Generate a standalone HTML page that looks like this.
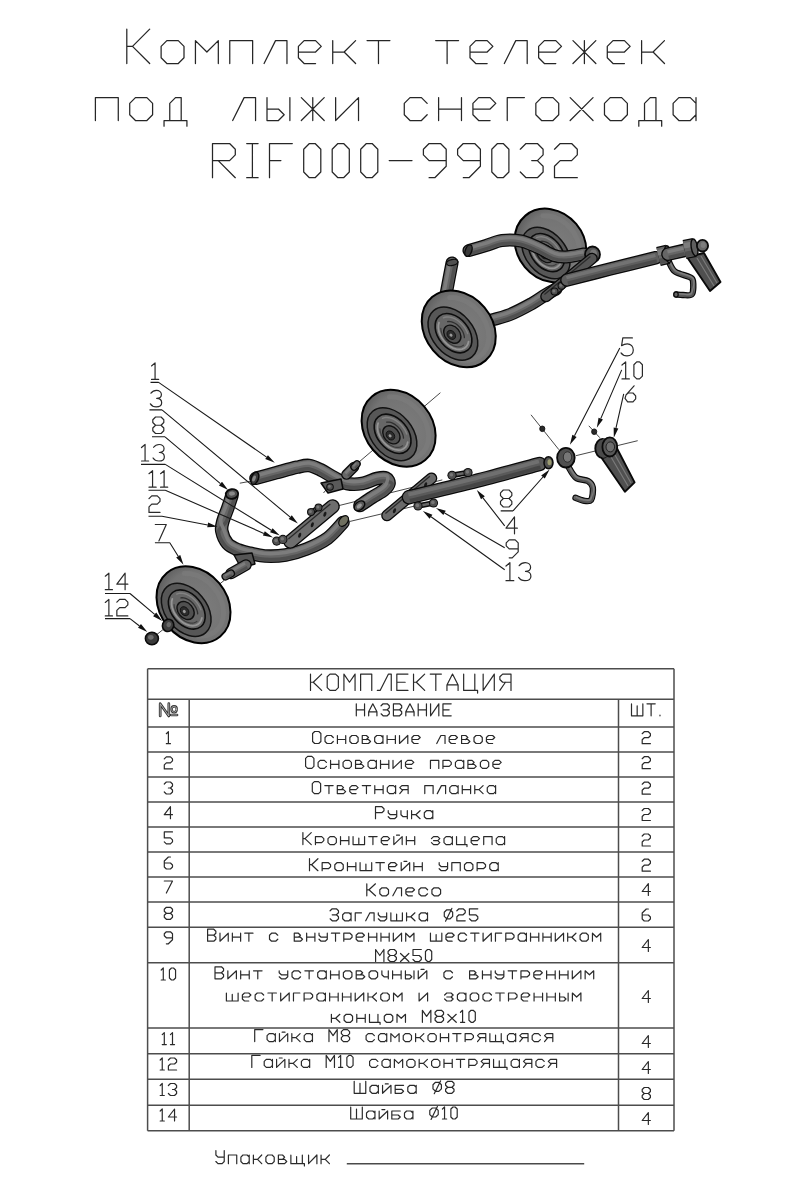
<!DOCTYPE html>
<html lang="ru"><head><meta charset="utf-8"><title>Комплект тележек под лыжи снегохода RIF000-99032</title><style>html,body{margin:0;padding:0;background:#fff;font-family:"Liberation Sans",sans-serif}svg{display:block}</style></head>
<body>
<svg width="802" height="1200" viewBox="0 0 802 1200">
<rect width="802" height="1200" fill="#fff"/>
<g aria-label="Комплект тележек под лыжи снегохода RIF000-99032" stroke="#262626" stroke-width="1.25" fill="none" stroke-linecap="round" stroke-linejoin="round"><path d="M 126.8,63.5 L 126.8,29.18 M 126.8,46.34 L 132.52,46.34 L 149.68,29.18 M 132.52,46.34 L 149.68,63.5 M 166.84,63.5 L 161.12,57.78 L 161.12,46.34 L 166.84,40.62 L 178.28,40.62 L 184,46.34 L 184,57.78 L 178.28,63.5 Z M 195.44,63.5 L 195.44,40.62 L 206.88,52.06 L 218.32,40.62 L 218.32,63.5 M 229.76,63.5 L 229.76,40.62 L 252.64,40.62 L 252.64,63.5 M 264.08,63.5 L 275.52,40.62 L 286.96,40.62 L 286.96,63.5 M 298.4,52.06 L 315.56,52.06 L 321.28,46.34 L 315.56,40.62 L 304.12,40.62 L 298.4,46.34 L 298.4,57.78 L 304.12,63.5 L 315.56,63.5 M 332.72,63.5 L 332.72,40.62 M 332.72,52.06 L 344.16,52.06 L 355.6,40.62 M 344.16,52.06 L 355.6,63.5 M 367.04,40.62 L 389.92,40.62 M 378.48,40.62 L 378.48,63.5 M 435.68,40.62 L 458.56,40.62 M 447.12,40.62 L 447.12,63.5 M 470,52.06 L 487.16,52.06 L 492.88,46.34 L 487.16,40.62 L 475.72,40.62 L 470,46.34 L 470,57.78 L 475.72,63.5 L 487.16,63.5 M 504.32,63.5 L 515.76,40.62 L 527.2,40.62 L 527.2,63.5 M 538.64,52.06 L 555.8,52.06 L 561.52,46.34 L 555.8,40.62 L 544.36,40.62 L 538.64,46.34 L 538.64,57.78 L 544.36,63.5 L 555.8,63.5 M 572.96,63.5 L 595.84,40.62 M 572.96,40.62 L 595.84,63.5 M 584.4,63.5 L 584.4,40.62 M 607.28,52.06 L 624.44,52.06 L 630.16,46.34 L 624.44,40.62 L 613,40.62 L 607.28,46.34 L 607.28,57.78 L 613,63.5 L 624.44,63.5 M 641.6,63.5 L 641.6,40.62 M 641.6,52.06 L 653.04,52.06 L 664.48,40.62 M 653.04,52.06 L 664.48,63.5 M 95.4,120.5 L 95.4,97.62 L 118.28,97.62 L 118.28,120.5 M 135.44,120.5 L 129.72,114.78 L 129.72,103.34 L 135.44,97.62 L 146.88,97.62 L 152.6,103.34 L 152.6,114.78 L 146.88,120.5 Z M 164.04,126.22 L 164.04,120.5 L 186.92,120.5 L 186.92,126.22 M 169.76,120.5 L 169.76,103.34 L 175.48,97.62 L 181.2,97.62 L 181.2,120.5 M 232.68,120.5 L 244.12,97.62 L 255.56,97.62 L 255.56,120.5 M 267,97.62 L 267,120.5 L 278.44,120.5 L 284.16,114.78 L 278.44,109.06 L 267,109.06 M 289.88,97.62 L 289.88,120.5 M 301.32,120.5 L 324.2,97.62 M 301.32,97.62 L 324.2,120.5 M 312.76,120.5 L 312.76,97.62 M 335.64,97.62 L 335.64,120.5 L 358.52,97.62 L 358.52,120.5 M 427.16,103.34 L 421.44,97.62 L 410,97.62 L 404.28,103.34 L 404.28,114.78 L 410,120.5 L 421.44,120.5 L 427.16,114.78 M 438.6,120.5 L 438.6,97.62 M 461.48,120.5 L 461.48,97.62 M 438.6,109.06 L 461.48,109.06 M 472.92,109.06 L 490.08,109.06 L 495.8,103.34 L 490.08,97.62 L 478.64,97.62 L 472.92,103.34 L 472.92,114.78 L 478.64,120.5 L 490.08,120.5 M 507.24,120.5 L 507.24,97.62 L 524.4,97.62 M 541.56,120.5 L 535.84,114.78 L 535.84,103.34 L 541.56,97.62 L 553,97.62 L 558.72,103.34 L 558.72,114.78 L 553,120.5 Z M 570.16,120.5 L 593.04,97.62 M 570.16,97.62 L 593.04,120.5 M 610.2,120.5 L 604.48,114.78 L 604.48,103.34 L 610.2,97.62 L 621.64,97.62 L 627.36,103.34 L 627.36,114.78 L 621.64,120.5 Z M 638.8,126.22 L 638.8,120.5 L 661.68,120.5 L 661.68,126.22 M 644.52,120.5 L 644.52,103.34 L 650.24,97.62 L 655.96,97.62 L 655.96,120.5 M 696,97.62 L 696,120.5 M 696,114.78 L 690.28,120.5 L 678.84,120.5 L 673.12,114.78 L 673.12,103.34 L 678.84,97.62 L 690.28,97.62 L 696,103.34 M 212.5,177.7 L 212.5,143.5 L 229.6,143.5 L 235.3,149.2 L 235.3,154.9 L 229.6,160.6 L 212.5,160.6 M 218.2,160.6 L 235.3,177.7 M 246.7,143.5 L 258.1,143.5 M 252.4,143.5 L 252.4,177.7 M 246.7,177.7 L 258.1,177.7 M 292.3,143.5 L 269.5,143.5 L 269.5,177.7 M 269.5,160.6 L 280.9,160.6 M 309.4,177.7 L 303.7,172 L 303.7,149.2 L 309.4,143.5 L 315.1,143.5 L 320.8,149.2 L 320.8,172 L 315.1,177.7 Z M 337.9,177.7 L 332.2,172 L 332.2,149.2 L 337.9,143.5 L 343.6,143.5 L 349.3,149.2 L 349.3,172 L 343.6,177.7 Z M 366.4,177.7 L 360.7,172 L 360.7,149.2 L 366.4,143.5 L 372.1,143.5 L 377.8,149.2 L 377.8,172 L 372.1,177.7 Z M 389.2,160.6 L 412,160.6 M 429.1,177.7 L 434.8,177.7 L 446.2,166.3 L 446.2,149.2 L 440.5,143.5 L 429.1,143.5 L 423.4,149.2 L 423.4,154.9 L 429.1,160.6 L 446.2,160.6 M 463.3,177.7 L 469,177.7 L 480.4,166.3 L 480.4,149.2 L 474.7,143.5 L 463.3,143.5 L 457.6,149.2 L 457.6,154.9 L 463.3,160.6 L 480.4,160.6 M 497.5,177.7 L 491.8,172 L 491.8,149.2 L 497.5,143.5 L 503.2,143.5 L 508.9,149.2 L 508.9,172 L 503.2,177.7 Z M 520.3,149.2 L 526,143.5 L 537.4,143.5 L 543.1,149.2 L 543.1,154.9 L 537.4,160.6 L 543.1,166.3 L 543.1,172 L 537.4,177.7 L 526,177.7 L 520.3,172 M 531.7,160.6 L 537.4,160.6 M 554.5,149.2 L 560.2,143.5 L 571.6,143.5 L 577.3,149.2 L 577.3,154.9 L 571.6,160.6 L 560.2,160.6 L 554.5,166.3 L 554.5,177.7 L 577.3,177.7"/></g>
<defs><radialGradient id="tire" cx="0.56" cy="0.44" r="0.62"><stop offset="0" stop-color="#7c7c7c"/><stop offset="0.72" stop-color="#737373"/><stop offset="1" stop-color="#575757"/></radialGradient></defs>
<g aria-label="Сборочный чертеж тележки">
<path d="M440.4,392.7 L357,463.7 M151.9,638.5 L224,580.5 M335.2,506.5 L442.3,479.9 M349.6,521.5 L414.9,506 M531,414.8 L558.9,449.7 M575.9,455.7 L637.7,440.7 M588.8,425.8 L599.8,437.7 M239.8,483.2 L251.8,481 M323.5,493 L327.3,488.3" stroke="#333" stroke-width="0.9" fill="none"/>
<ellipse cx="550.5" cy="245.5" rx="39" ry="33.5" transform="rotate(50 550.5 245.5)" fill="url(#tire)" stroke="#000" stroke-width="2"/><path d="M542.84,215.75 L548.73,215.88 L554.71,217.27 L560.5,219.87 L565.87,223.56 L570.57,228.2 L574.42,233.58 L577.25,239.46 L578.93,245.61 L579.39,251.75 L578.62,257.62 L576.64,262.97 L573.54,267.58 L569.46,271.24 L564.57,273.8 L559.07,275.15 L553.21,275.23" stroke="#7e7e7e" stroke-width="5" fill="none" opacity="0.55" stroke-linecap="round"/><ellipse cx="545.9" cy="253" rx="29" ry="20" transform="rotate(50 545.9 253)" fill="#575757" stroke="#121212" stroke-width="1.5"/><ellipse cx="546.5" cy="252.6" rx="21.46" ry="14.8" transform="rotate(50 546.5 252.6)" fill="#676767" stroke="#0d0d0d" stroke-width="1.6"/><path d="M561.11,260.67 L560.34,263.29 L558.99,265.45 L557.1,267.06 L554.76,268.06 L552.06,268.39 L549.13,268.04 L546.08,267.04 L543.05,265.41 L540.17,263.24 L537.56,260.61 L535.33,257.64 L533.58,254.46 L532.39,251.19 L531.79,247.98 L531.83,244.98 L532.5,242.3" stroke="#9a9a9a" stroke-width="1.8" fill="none" opacity="0.9" stroke-linecap="round"/><path d="M556.19,264.15 L554.92,265 L553.44,265.55 L551.81,265.8 L550.05,265.75 L548.2,265.39 L546.32,264.73 L544.45,263.79 L542.62,262.59 L540.88,261.16 L539.27,259.53 L537.83,257.73 L536.59,255.82 L535.58,253.83 L534.83,251.81 L534.35,249.82 L534.15,247.88" stroke="#3a3a3a" stroke-width="1.2" fill="none" opacity="0.9" stroke-linecap="round"/><path d="M536.71,237.7 L538.11,237.18 L539.62,236.89 L541.24,236.82 L542.93,236.98 L544.67,237.36 L546.44,237.96 L548.2,238.78 L549.95,239.79 L551.64,240.98 L553.26,242.35 L554.78,243.86 L556.19,245.49 L557.45,247.23 L558.56,249.05 L559.49,250.92 L560.24,252.81" stroke="#8a8a8a" stroke-width="1.4" fill="none" opacity="0.8" stroke-linecap="round"/><path d="M540.82,241.36 L542.03,241.24 L543.32,241.31 L544.66,241.58 L546.04,242.04 L547.42,242.67 L548.79,243.48 L550.11,244.44 L551.38,245.55 L552.56,246.77 L553.64,248.09 L554.6,249.49 L555.42,250.95 L556.08,252.43 L556.58,253.91 L556.91,255.37 L557.06,256.79" stroke="#2a2a2a" stroke-width="1.3" fill="none" opacity="0.9" stroke-linecap="round"/><ellipse cx="545.3" cy="253.6" rx="10" ry="7.5" transform="rotate(50 545.3 253.6)" fill="#505050" stroke="#111" stroke-width="1.4"/><ellipse cx="544.3" cy="254.3" rx="5" ry="3.8" transform="rotate(50 544.3 254.3)" fill="#2c2c2c" stroke="#0d0d0d" stroke-width="0.8"/><ellipse cx="544" cy="254.6" rx="1.7" ry="1.4" transform="rotate(50 544 254.6)" fill="#9a9a9a"/>
<path d="M469,250.5 C471.83,249.67 480.5,247.17 486,245.5 C491.5,243.83 496.17,241.25 502,240.5 C507.83,239.75 515,239.83 521,241 C527,242.17 532.5,245.08 538,247.5 C543.5,249.92 549.33,253.92 554,255.5 C558.67,257.08 561,257.25 566,257 C571,256.75 581,254.5 584,254" stroke="#0a0a0a" stroke-width="13.1" fill="none" stroke-linecap="round" stroke-linejoin="round"/><path d="M469,250.5 C471.83,249.67 480.5,247.17 486,245.5 C491.5,243.83 496.17,241.25 502,240.5 C507.83,239.75 515,239.83 521,241 C527,242.17 532.5,245.08 538,247.5 C543.5,249.92 549.33,253.92 554,255.5 C558.67,257.08 561,257.25 566,257 C571,256.75 581,254.5 584,254" stroke="#666666" stroke-width="10.5" fill="none" stroke-linecap="round" stroke-linejoin="round"/><path d="M469.89,253.52 C472.73,252.69 481.49,250.16 486.91,248.51 C492.33,246.87 496.82,244.36 502.4,243.62 C507.98,242.89 514.68,242.97 520.4,244.09 C526.12,245.22 531.3,247.99 536.73,250.38 C542.16,252.78 548.08,256.86 552.99,258.48 C557.89,260.11 560.9,260.38 566.16,260.15 C571.41,259.92 581.46,257.61 584.52,257.11" stroke="#4c4c4c" stroke-width="3.36" fill="none" stroke-linecap="butt" stroke-linejoin="round" opacity="0.85"/><path d="M468.35,248.28 C471.18,247.45 479.77,244.97 485.33,243.29 C490.89,241.61 495.69,238.97 501.71,238.21 C507.72,237.45 515.24,237.54 521.44,238.73 C527.64,239.93 533.38,242.96 538.93,245.39 C544.48,247.82 550.25,251.76 554.74,253.31 C559.23,254.86 561.07,254.96 565.88,254.69 C570.7,254.43 580.66,252.22 583.62,251.72" stroke="#808080" stroke-width="3.36" fill="none" stroke-linecap="butt" stroke-linejoin="round" opacity="0.9"/>
<ellipse cx="468.5" cy="250.6" rx="3.2" ry="6" transform="rotate(20 468.5 250.6)" fill="#3a3a3a" stroke="#0a0a0a" stroke-width="1.4"/>
<ellipse cx="592.5" cy="254.5" rx="7.5" ry="8" transform="rotate(0 592.5 254.5)" fill="#555" stroke="#0a0a0a" stroke-width="1.8"/>
<ellipse cx="593.5" cy="254" rx="3.5" ry="4.5" transform="rotate(0 593.5 254)" fill="#777"/>
<path d="M446.5,292 C447,289.33 448.58,280.83 449.5,276 C450.42,271.17 451.58,265.17 452,263" stroke="#0a0a0a" stroke-width="13.1" fill="none" stroke-linecap="round" stroke-linejoin="round"/><path d="M446.5,292 C447,289.33 448.58,280.83 449.5,276 C450.42,271.17 451.58,265.17 452,263" stroke="#666666" stroke-width="10.5" fill="none" stroke-linecap="round" stroke-linejoin="round"/><path d="M449.6,292.58 C450.1,289.91 451.68,281.42 452.59,276.59 C453.51,271.76 454.68,265.76 455.09,263.59" stroke="#4c4c4c" stroke-width="3.36" fill="none" stroke-linecap="butt" stroke-linejoin="round" opacity="0.85"/><path d="M444.23,291.57 C444.73,288.91 446.31,280.4 447.23,275.57 C448.15,270.73 449.31,264.73 449.73,262.56" stroke="#808080" stroke-width="3.36" fill="none" stroke-linecap="butt" stroke-linejoin="round" opacity="0.9"/>
<ellipse cx="452.2" cy="262.5" rx="5.8" ry="3" transform="rotate(-12 452.2 262.5)" fill="#505050" stroke="#0a0a0a" stroke-width="1.3"/>
<path d="M486,321.5 C490,320.33 502.33,317.5 510,314.5 C517.67,311.5 526,306.83 532,303.5 C538,300.17 542,296.92 546,294.5 C550,292.08 554.33,289.92 556,289" stroke="#0a0a0a" stroke-width="13.1" fill="none" stroke-linecap="round" stroke-linejoin="round"/><path d="M486,321.5 C490,320.33 502.33,317.5 510,314.5 C517.67,311.5 526,306.83 532,303.5 C538,300.17 542,296.92 546,294.5 C550,292.08 554.33,289.92 556,289" stroke="#666666" stroke-width="10.5" fill="none" stroke-linecap="round" stroke-linejoin="round"/><path d="M486.88,324.52 C490.93,323.34 503.37,320.48 511.15,317.43 C518.92,314.39 527.45,309.63 533.53,306.25 C539.61,302.88 543.63,299.61 547.63,297.2 C551.63,294.78 555.87,292.67 557.52,291.76" stroke="#4c4c4c" stroke-width="3.36" fill="none" stroke-linecap="butt" stroke-linejoin="round" opacity="0.85"/><path d="M485.35,319.28 C489.32,318.13 501.57,315.32 509.16,312.35 C516.75,309.38 524.94,304.79 530.88,301.48 C536.82,298.18 540.8,294.94 544.81,292.52 C548.81,290.11 553.21,287.9 554.89,286.98" stroke="#808080" stroke-width="3.36" fill="none" stroke-linecap="butt" stroke-linejoin="round" opacity="0.9"/>
<path d="M546,296.5 L592,258.5" stroke="#0a0a0a" stroke-width="11.6" stroke-linecap="round"/><path d="M546,296.5 L592,258.5" stroke="#555" stroke-width="9" stroke-linecap="round"/><path d="M544.4,294.56 L590.4,256.56" stroke="#2a2a2a" stroke-width="1.3" stroke-linecap="butt"/>
<circle cx="554.5" cy="291.5" r="4" fill="#0d0d0d"/><circle cx="554.5" cy="291.5" r="3" fill="#505050"/><circle cx="553.9" cy="290.9" r="1.5" fill="#777"/>
<circle cx="561.5" cy="285.8" r="4" fill="#0d0d0d"/><circle cx="561.5" cy="285.8" r="3" fill="#505050"/><circle cx="560.9" cy="285.2" r="1.5" fill="#777"/>
<path d="M567,280 C574.17,278.17 595.17,272.72 610,269 C624.83,265.28 648.33,259.58 656,257.7" stroke="#0a0a0a" stroke-width="13.6" fill="none" stroke-linecap="round" stroke-linejoin="round"/><path d="M567,280 C574.17,278.17 595.17,272.72 610,269 C624.83,265.28 648.33,259.58 656,257.7" stroke="#5e5e5e" stroke-width="11" fill="none" stroke-linecap="round" stroke-linejoin="round"/><path d="M567.82,283.2 C574.98,281.36 595.97,275.92 610.8,272.2 C625.63,268.49 649.12,262.79 656.79,260.9" stroke="#474747" stroke-width="3.52" fill="none" stroke-linecap="butt" stroke-linejoin="round" opacity="0.85"/><path d="M566.4,277.66 C573.57,275.82 594.57,270.37 609.41,266.65 C624.25,262.93 647.75,257.23 655.42,255.35" stroke="#767676" stroke-width="3.52" fill="none" stroke-linecap="butt" stroke-linejoin="round" opacity="0.9"/>
<ellipse cx="458.75" cy="328.85" rx="41.5" ry="33.5" transform="rotate(50 458.75 328.85)" fill="url(#tire)" stroke="#000" stroke-width="2"/><path d="M449.69,297.45 L455.79,297.8 L462.01,299.49 L468.09,302.43 L473.77,306.5 L478.81,311.53 L482.99,317.3 L486.13,323.56 L488.1,330.06 L488.81,336.5 L488.24,342.61 L486.4,348.13 L483.39,352.83 L479.31,356.5 L474.36,358.99 L468.74,360.19 L462.69,360.04" stroke="#7e7e7e" stroke-width="5" fill="none" opacity="0.55" stroke-linecap="round"/><ellipse cx="452.9" cy="333.6" rx="30" ry="20.5" transform="rotate(50 452.9 333.6)" fill="#575757" stroke="#121212" stroke-width="1.5"/><ellipse cx="453.5" cy="333.2" rx="22.2" ry="15.17" transform="rotate(50 453.5 333.2)" fill="#676767" stroke="#0d0d0d" stroke-width="1.6"/><path d="M468.57,341.59 L467.79,344.28 L466.41,346.5 L464.47,348.15 L462.07,349.17 L459.3,349.49 L456.28,349.13 L453.14,348.07 L450.01,346.39 L447.04,344.14 L444.34,341.42 L442.03,338.34 L440.22,335.05 L438.97,331.68 L438.35,328.37 L438.37,325.28 L439.04,322.51" stroke="#9a9a9a" stroke-width="1.8" fill="none" opacity="0.9" stroke-linecap="round"/><path d="M463.53,345.15 L462.22,346.01 L460.7,346.58 L459.02,346.83 L457.21,346.77 L455.31,346.39 L453.37,345.7 L451.44,344.72 L449.55,343.48 L447.76,341.99 L446.09,340.3 L444.6,338.45 L443.32,336.47 L442.27,334.42 L441.49,332.34 L440.99,330.27 L440.77,328.28" stroke="#3a3a3a" stroke-width="1.2" fill="none" opacity="0.9" stroke-linecap="round"/><path d="M443.36,317.8 L444.79,317.27 L446.35,316.97 L448.01,316.91 L449.75,317.08 L451.54,317.49 L453.36,318.12 L455.19,318.96 L456.99,320.01 L458.74,321.25 L460.41,322.67 L461.98,324.23 L463.43,325.92 L464.74,327.72 L465.89,329.6 L466.86,331.52 L467.64,333.48" stroke="#8a8a8a" stroke-width="1.4" fill="none" opacity="0.8" stroke-linecap="round"/><path d="M447.6,321.59 L448.85,321.47 L450.17,321.55 L451.56,321.84 L452.97,322.31 L454.4,322.98 L455.81,323.81 L457.18,324.81 L458.49,325.95 L459.71,327.22 L460.83,328.59 L461.82,330.04 L462.67,331.54 L463.36,333.07 L463.88,334.6 L464.23,336.11 L464.39,337.56" stroke="#2a2a2a" stroke-width="1.3" fill="none" opacity="0.9" stroke-linecap="round"/><ellipse cx="452.3" cy="334.2" rx="10" ry="7.5" transform="rotate(50 452.3 334.2)" fill="#505050" stroke="#111" stroke-width="1.4"/><ellipse cx="451.3" cy="334.9" rx="5" ry="3.8" transform="rotate(50 451.3 334.9)" fill="#2c2c2c" stroke="#0d0d0d" stroke-width="0.8"/><ellipse cx="451" cy="335.2" rx="1.7" ry="1.4" transform="rotate(50 451 335.2)" fill="#9a9a9a"/>
<path d="M669,262 C670,263.58 671.58,269 675,271.5 C678.42,274 686.5,275.42 689.5,277 C692.5,278.58 692.58,278.17 693,281 C693.42,283.83 693.67,291.67 692,294 C690.33,296.33 685.58,294.92 683,295 C680.42,295.08 677.58,294.58 676.5,294.5" stroke="#0a0a0a" stroke-width="6.4" fill="none" stroke-linecap="round" stroke-linejoin="round"/><path d="M669,262 C670,263.58 671.58,269 675,271.5 C678.42,274 686.5,275.42 689.5,277 C692.5,278.58 692.58,278.17 693,281 C693.42,283.83 693.67,291.67 692,294 C690.33,296.33 685.58,294.92 683,295 C680.42,295.08 677.58,294.58 676.5,294.5" stroke="#666666" stroke-width="4" fill="none" stroke-linecap="round" stroke-linejoin="round"/><path d="M667.99,262.64 C669.04,264.28 670.8,269.9 674.29,272.47 C677.78,275.04 686.02,276.61 688.94,278.06 C691.86,279.51 691.14,278.4 691.81,281.17 C692.49,283.95 694.44,292.19 692.98,294.7 C691.51,297.2 685.8,296.03 683.04,296.2 C680.28,296.37 677.51,295.78 676.41,295.7" stroke="#4c4c4c" stroke-width="1.28" fill="none" stroke-linecap="butt" stroke-linejoin="round" opacity="0.85"/><path d="M669.74,261.53 C670.71,263.07 672.16,268.34 675.52,270.79 C678.88,273.24 686.85,274.54 689.91,276.22 C692.97,277.9 693.64,277.99 693.87,280.87 C694.1,283.75 693.1,291.28 691.28,293.49 C689.47,295.7 685.42,294.1 682.97,294.12 C680.52,294.14 677.63,293.71 676.57,293.62" stroke="#808080" stroke-width="1.28" fill="none" stroke-linecap="butt" stroke-linejoin="round" opacity="0.9"/>
<ellipse cx="676" cy="294.5" rx="2.2" ry="2.6" transform="rotate(0 676 294.5)" fill="#666" stroke="#0a0a0a" stroke-width="1.2"/>
<path d="M658.5,256.5 L668,254.2" stroke="#0a0a0a" stroke-width="19.4" fill="none" stroke-linecap="butt" stroke-linejoin="round"/><path d="M658.5,256.5 L668,254.2" stroke="#666666" stroke-width="17" fill="none" stroke-linecap="butt" stroke-linejoin="round"/><path d="M659.7,261.46 L669.2,259.16" stroke="#4c4c4c" stroke-width="5.44" fill="none" stroke-linecap="butt" stroke-linejoin="round" opacity="0.85"/><path d="M657.62,252.87 L667.12,250.57" stroke="#808080" stroke-width="5.44" fill="none" stroke-linecap="butt" stroke-linejoin="round" opacity="0.9"/>
<ellipse cx="668" cy="254.2" rx="3.2" ry="8.6" transform="rotate(-10 668 254.2)" fill="#5e5e5e" stroke="#0a0a0a" stroke-width="1.4"/>
<path d="M668,254.2 L684,250.5" stroke="#0a0a0a" stroke-width="13.6" fill="none" stroke-linecap="round" stroke-linejoin="round"/><path d="M668,254.2 L684,250.5" stroke="#666666" stroke-width="11" fill="none" stroke-linecap="round" stroke-linejoin="round"/><path d="M668.74,257.42 L684.74,253.72" stroke="#4c4c4c" stroke-width="3.52" fill="none" stroke-linecap="butt" stroke-linejoin="round" opacity="0.85"/><path d="M667.45,251.84 L683.45,248.14" stroke="#808080" stroke-width="3.52" fill="none" stroke-linecap="butt" stroke-linejoin="round" opacity="0.9"/>
<path d="M687,257 L710,291 L720.5,282 L704,253 Z" fill="#505050" stroke="#0a0a0a" stroke-width="1.9" stroke-linejoin="round"/>
<path d="M697,258 L714,286 M701,256 L717,283" stroke="#7a7a7a" stroke-width="1.2"/>
<path d="M684.5,249.5 L694.5,247.5" stroke="#0a0a0a" stroke-width="19.4" fill="none" stroke-linecap="butt" stroke-linejoin="round"/><path d="M684.5,249.5 L694.5,247.5" stroke="#666666" stroke-width="17" fill="none" stroke-linecap="butt" stroke-linejoin="round"/><path d="M685.5,254.5 L695.5,252.5" stroke="#4c4c4c" stroke-width="5.44" fill="none" stroke-linecap="butt" stroke-linejoin="round" opacity="0.85"/><path d="M683.77,245.83 L693.77,243.83" stroke="#808080" stroke-width="5.44" fill="none" stroke-linecap="butt" stroke-linejoin="round" opacity="0.9"/>
<ellipse cx="694.5" cy="247.5" rx="3.2" ry="8.6" transform="rotate(-10 694.5 247.5)" fill="#5e5e5e" stroke="#0a0a0a" stroke-width="1.4"/>
<ellipse cx="702.5" cy="245.7" rx="5.6" ry="5.8" transform="rotate(0 702.5 245.7)" fill="#686868" stroke="#0a0a0a" stroke-width="1.8"/>
<ellipse cx="703.2" cy="245" rx="2.6" ry="3" transform="rotate(0 703.2 245)" fill="#7e7e7e"/>
<ellipse cx="398.6" cy="428.2" rx="41.5" ry="33.5" transform="rotate(50 398.6 428.2)" fill="url(#tire)" stroke="#000" stroke-width="2"/><path d="M389.54,396.8 L395.64,397.15 L401.86,398.84 L407.94,401.78 L413.62,405.85 L418.66,410.88 L422.84,416.65 L425.98,422.91 L427.95,429.41 L428.66,435.85 L428.09,441.96 L426.25,447.48 L423.24,452.18 L419.16,455.85 L414.21,458.34 L408.59,459.54 L402.54,459.39" stroke="#7e7e7e" stroke-width="5" fill="none" opacity="0.55" stroke-linecap="round"/><ellipse cx="392" cy="434.2" rx="30" ry="20.5" transform="rotate(50 392 434.2)" fill="#575757" stroke="#121212" stroke-width="1.5"/><ellipse cx="392.6" cy="433.8" rx="22.2" ry="15.17" transform="rotate(50 392.6 433.8)" fill="#676767" stroke="#0d0d0d" stroke-width="1.6"/><path d="M407.67,442.19 L406.89,444.88 L405.51,447.1 L403.57,448.75 L401.17,449.77 L398.4,450.09 L395.38,449.73 L392.24,448.67 L389.11,446.99 L386.14,444.74 L383.44,442.02 L381.13,438.94 L379.32,435.65 L378.07,432.28 L377.45,428.97 L377.47,425.88 L378.14,423.11" stroke="#9a9a9a" stroke-width="1.8" fill="none" opacity="0.9" stroke-linecap="round"/><path d="M402.63,445.75 L401.32,446.61 L399.8,447.18 L398.12,447.43 L396.31,447.37 L394.41,446.99 L392.47,446.3 L390.54,445.32 L388.65,444.08 L386.86,442.59 L385.19,440.9 L383.7,439.05 L382.42,437.07 L381.37,435.02 L380.59,432.94 L380.09,430.87 L379.87,428.88" stroke="#3a3a3a" stroke-width="1.2" fill="none" opacity="0.9" stroke-linecap="round"/><path d="M382.46,418.4 L383.89,417.87 L385.45,417.57 L387.11,417.51 L388.85,417.68 L390.64,418.09 L392.46,418.72 L394.29,419.56 L396.09,420.61 L397.84,421.85 L399.51,423.27 L401.08,424.83 L402.53,426.52 L403.84,428.32 L404.99,430.2 L405.96,432.12 L406.74,434.08" stroke="#8a8a8a" stroke-width="1.4" fill="none" opacity="0.8" stroke-linecap="round"/><path d="M386.7,422.19 L387.95,422.07 L389.27,422.15 L390.66,422.44 L392.07,422.91 L393.5,423.58 L394.91,424.41 L396.28,425.41 L397.59,426.55 L398.81,427.82 L399.93,429.19 L400.92,430.64 L401.77,432.14 L402.46,433.67 L402.98,435.2 L403.33,436.71 L403.49,438.16" stroke="#2a2a2a" stroke-width="1.3" fill="none" opacity="0.9" stroke-linecap="round"/><ellipse cx="391.4" cy="434.8" rx="10" ry="7.5" transform="rotate(50 391.4 434.8)" fill="#505050" stroke="#111" stroke-width="1.4"/><ellipse cx="390.4" cy="435.5" rx="5" ry="3.8" transform="rotate(50 390.4 435.5)" fill="#2c2c2c" stroke="#0d0d0d" stroke-width="0.8"/><ellipse cx="390.1" cy="435.8" rx="1.7" ry="1.4" transform="rotate(50 390.1 435.8)" fill="#9a9a9a"/>
<path d="M256,478.3 C259.33,477.38 269.17,474.65 276,472.8 C282.83,470.95 291.5,468.42 297,467.2 C302.5,465.98 305,465.03 309,465.5 C313,465.97 316.83,468 321,470 C325.17,472 329.67,475.25 334,477.5 C338.33,479.75 342.33,482.5 347,483.5 C351.67,484.5 357,484.33 362,483.5 C367,482.67 373,479.42 377,478.5 C381,477.58 384,477.17 386,478 C388,478.83 389.33,481.5 389,483.5 C388.67,485.5 386.83,487.67 384,490 C381.17,492.33 376,494.92 372,497.5 C368,500.08 362,504.17 360,505.5" stroke="#0a0a0a" stroke-width="13.6" fill="none" stroke-linecap="round" stroke-linejoin="round"/><path d="M256,478.3 C259.33,477.38 269.17,474.65 276,472.8 C282.83,470.95 291.5,468.42 297,467.2 C302.5,465.98 305,465.03 309,465.5 C313,465.97 316.83,468 321,470 C325.17,472 329.67,475.25 334,477.5 C338.33,479.75 342.33,482.5 347,483.5 C351.67,484.5 357,484.33 362,483.5 C367,482.67 373,479.42 377,478.5 C381,477.58 384,477.17 386,478 C388,478.83 389.33,481.5 389,483.5 C388.67,485.5 386.83,487.67 384,490 C381.17,492.33 376,494.92 372,497.5 C368,500.08 362,504.17 360,505.5" stroke="#666666" stroke-width="11" fill="none" stroke-linecap="round" stroke-linejoin="round"/><path d="M256.88,481.48 C260.21,480.57 270.06,477.83 276.86,475.99 C283.67,474.14 292.42,471.62 297.71,470.42 C303.01,469.22 304.97,468.35 308.62,468.78 C312.26,469.2 315.6,471.03 319.57,472.98 C323.55,474.92 328.02,478.14 332.48,480.43 C336.94,482.72 341.3,485.67 346.31,486.73 C351.32,487.78 357.3,487.59 362.54,486.76 C367.78,485.92 374.04,482.67 377.74,481.72 C381.44,480.77 382.31,480.66 384.73,481.05 C387.15,481.43 392.03,482.13 392.26,484.04 C392.48,485.96 389.18,489.84 386.1,492.55 C383.02,495.25 377.83,497.66 373.79,500.27 C369.75,502.89 363.82,506.92 361.83,508.25" stroke="#4c4c4c" stroke-width="3.52" fill="none" stroke-linecap="butt" stroke-linejoin="round" opacity="0.85"/><path d="M255.36,475.97 C258.69,475.05 268.51,472.32 275.37,470.46 C282.22,468.61 290.83,466.07 296.48,464.84 C302.13,463.61 305.02,462.6 309.28,463.1 C313.54,463.59 317.74,465.78 322.05,467.82 C326.35,469.86 330.87,473.13 335.12,475.35 C339.36,477.57 343.09,480.17 347.51,481.13 C351.92,482.09 356.78,481.95 361.6,481.11 C366.43,480.28 372.24,477.03 376.46,476.14 C380.68,475.25 385.24,474.61 386.93,475.77 C388.62,476.93 387.36,481.04 386.61,483.1 C385.87,485.16 385.12,486.07 382.46,488.13 C379.81,490.19 374.65,492.91 370.69,495.47 C366.72,498.03 360.66,502.15 358.66,503.49" stroke="#808080" stroke-width="3.52" fill="none" stroke-linecap="butt" stroke-linejoin="round" opacity="0.9"/>
<ellipse cx="254.8" cy="478.3" rx="3.6" ry="6.5" transform="rotate(20 254.8 478.3)" fill="#3a3a3a" stroke="#0a0a0a" stroke-width="1.5"/>
<ellipse cx="254" cy="478.5" rx="1.6" ry="3.2" transform="rotate(20 254 478.5)" fill="#888"/>
<ellipse cx="359.5" cy="505.8" rx="4" ry="6" transform="rotate(50 359.5 505.8)" fill="#5a5a5a" stroke="#0a0a0a" stroke-width="1.4"/>
<ellipse cx="359.3" cy="506" rx="1.8" ry="3" transform="rotate(50 359.3 506)" fill="#999"/>
<path d="M346.5,474.5 L354,467" stroke="#0a0a0a" stroke-width="10.6" fill="none" stroke-linecap="round" stroke-linejoin="round"/><path d="M346.5,474.5 L354,467" stroke="#666666" stroke-width="8" fill="none" stroke-linecap="round" stroke-linejoin="round"/><path d="M348.2,476.2 L355.7,468.7" stroke="#4c4c4c" stroke-width="2.56" fill="none" stroke-linecap="butt" stroke-linejoin="round" opacity="0.85"/><path d="M345.26,473.26 L352.76,465.76" stroke="#808080" stroke-width="2.56" fill="none" stroke-linecap="butt" stroke-linejoin="round" opacity="0.9"/>
<path d="M354,467 L357,464" stroke="#0a0a0a" stroke-width="7.6" fill="none" stroke-linecap="round" stroke-linejoin="round"/><path d="M354,467 L357,464" stroke="#666666" stroke-width="5" fill="none" stroke-linecap="round" stroke-linejoin="round"/><path d="M355.06,468.06 L358.06,465.06" stroke="#4c4c4c" stroke-width="1.6" fill="none" stroke-linecap="butt" stroke-linejoin="round" opacity="0.85"/><path d="M353.22,466.22 L356.22,463.22" stroke="#808080" stroke-width="1.6" fill="none" stroke-linecap="butt" stroke-linejoin="round" opacity="0.9"/>
<path d="M321,483 L341,479 L343,489 L328,493 Z" fill="#5a5a5a" stroke="#0a0a0a" stroke-width="1.5" stroke-linejoin="round"/>
<circle cx="330" cy="487" r="3.8" fill="#0d0d0d"/><circle cx="330" cy="487" r="2.8" fill="#505050"/><circle cx="329.4" cy="486.4" r="1.4" fill="#777"/>
<path d="M231.8,496 C231.08,498.13 228.97,504.63 227.5,508.8 C226.03,512.97 223.95,517.3 223,521 C222.05,524.7 221.05,527.25 221.8,531 C222.55,534.75 224.8,540.37 227.5,543.5 C230.2,546.63 234.25,548.18 238,549.8 C241.75,551.42 245.5,552.17 250,553.2 C254.5,554.23 259.05,555.7 265,556 C270.95,556.3 278.77,556.17 285.7,555 C292.63,553.83 299.62,551.8 306.6,549 C313.58,546.2 321.53,542.62 327.6,538.2 C333.67,533.78 340.43,525.12 343,522.5" stroke="#0a0a0a" stroke-width="13.6" fill="none" stroke-linecap="round" stroke-linejoin="round"/><path d="M231.8,496 C231.08,498.13 228.97,504.63 227.5,508.8 C226.03,512.97 223.95,517.3 223,521 C222.05,524.7 221.05,527.25 221.8,531 C222.55,534.75 224.8,540.37 227.5,543.5 C230.2,546.63 234.25,548.18 238,549.8 C241.75,551.42 245.5,552.17 250,553.2 C254.5,554.23 259.05,555.7 265,556 C270.95,556.3 278.77,556.17 285.7,555 C292.63,553.83 299.62,551.8 306.6,549 C313.58,546.2 321.53,542.62 327.6,538.2 C333.67,533.78 340.43,525.12 343,522.5" stroke="#666666" stroke-width="11" fill="none" stroke-linecap="round" stroke-linejoin="round"/><path d="M234.93,497.05 C234.21,499.19 232.07,505.77 230.61,509.9 C229.16,514.02 228.2,518.2 226.2,521.82 C224.19,525.45 218.76,527.67 218.56,531.65 C218.36,535.62 221.98,542.12 225,545.65 C228.02,549.18 232.65,551.04 236.69,552.83 C240.74,554.62 244.57,555.34 249.26,556.42 C253.95,557.49 258.67,558.99 264.83,559.3 C271,559.6 279.08,559.46 286.25,558.25 C293.41,557.05 300.61,554.96 307.83,552.06 C315.04,549.17 323.29,545.41 329.54,540.87 C335.8,536.33 342.72,527.49 345.36,524.81" stroke="#4c4c4c" stroke-width="3.52" fill="none" stroke-linecap="butt" stroke-linejoin="round" opacity="0.85"/><path d="M229.51,495.23 C228.79,497.36 226.69,503.8 225.22,508 C223.74,512.19 220.83,516.64 220.66,520.4 C220.48,524.15 222.73,526.94 224.17,530.53 C225.62,534.11 226.87,539.08 229.33,541.92 C231.8,544.76 235.42,546.09 238.96,547.58 C242.49,549.06 246.18,549.84 250.54,550.84 C254.9,551.84 259.33,553.29 265.12,553.58 C270.91,553.88 278.54,553.75 285.3,552.61 C292.06,551.48 298.89,549.48 305.7,546.75 C312.51,544.03 320.25,540.57 326.18,536.24 C332.1,531.92 338.76,523.38 341.27,520.81" stroke="#808080" stroke-width="3.52" fill="none" stroke-linecap="butt" stroke-linejoin="round" opacity="0.9"/>
<ellipse cx="232" cy="494" rx="6.2" ry="4.8" transform="rotate(-8 232 494)" fill="#505050" stroke="#0a0a0a" stroke-width="1.8"/>
<ellipse cx="232" cy="493.6" rx="3" ry="2" transform="rotate(-8 232 493.6)" fill="#8a8a8a"/>
<ellipse cx="343.6" cy="521" rx="4" ry="6" transform="rotate(40 343.6 521)" fill="#707060" stroke="#0a0a0a" stroke-width="1.2"/>
<path d="M290.5,541.5 L332.5,506.5" stroke="#0a0a0a" stroke-width="14.6" stroke-linecap="round"/><path d="M290.5,541.5 L332.5,506.5" stroke="#6e6e6e" stroke-width="12" stroke-linecap="round"/><path d="M288.35,538.92 L330.35,503.92" stroke="#2a2a2a" stroke-width="1.3" stroke-linecap="butt"/><ellipse cx="299.7" cy="535.3" rx="1.4" ry="2.6" transform="rotate(20 299.7 535.3)" fill="#1a1a1a"/><ellipse cx="312.3" cy="524.8" rx="1.4" ry="2.6" transform="rotate(20 312.3 524.8)" fill="#1a1a1a"/><ellipse cx="324.9" cy="514.3" rx="1.4" ry="2.6" transform="rotate(20 324.9 514.3)" fill="#1a1a1a"/>
<path d="M311,512 L318.5,507.5" stroke="#0d0d0d" stroke-width="4.8" stroke-linecap="round"/><path d="M311,512 L318.5,507.5" stroke="#666" stroke-width="2.1" stroke-linecap="round"/><circle cx="311" cy="512" r="4" fill="#0d0d0d"/><circle cx="311" cy="512" r="3" fill="#505050"/><circle cx="310.4" cy="511.4" r="1.5" fill="#777"/><circle cx="318.5" cy="507.5" r="4" fill="#0d0d0d"/><circle cx="318.5" cy="507.5" r="3" fill="#505050"/><circle cx="317.9" cy="506.9" r="1.5" fill="#777"/>
<path d="M276.7,541.1 L282.9,539.4" stroke="#0d0d0d" stroke-width="5.76" stroke-linecap="round"/><path d="M276.7,541.1 L282.9,539.4" stroke="#666" stroke-width="2.52" stroke-linecap="round"/><circle cx="276.7" cy="541.1" r="4.6" fill="#0d0d0d"/><circle cx="276.7" cy="541.1" r="3.6" fill="#505050"/><circle cx="276.1" cy="540.5" r="1.8" fill="#777"/><circle cx="282.9" cy="539.4" r="4.6" fill="#0d0d0d"/><circle cx="282.9" cy="539.4" r="3.6" fill="#505050"/><circle cx="282.3" cy="538.8" r="1.8" fill="#777"/>
<path d="M234,555 L252,553 L255,564 L241,568 Z" fill="#555" stroke="#0a0a0a" stroke-width="1.4" stroke-linejoin="round"/>
<path d="M246,565 L231,573.5" stroke="#0a0a0a" stroke-width="11.6" fill="none" stroke-linecap="round" stroke-linejoin="round"/><path d="M246,565 L231,573.5" stroke="#666666" stroke-width="9" fill="none" stroke-linecap="round" stroke-linejoin="round"/><path d="M247.33,567.35 L232.33,575.85" stroke="#4c4c4c" stroke-width="2.88" fill="none" stroke-linecap="butt" stroke-linejoin="round" opacity="0.85"/><path d="M245.02,563.28 L230.02,571.78" stroke="#808080" stroke-width="2.88" fill="none" stroke-linecap="butt" stroke-linejoin="round" opacity="0.9"/>
<path d="M231,573.5 L225.5,576.5" stroke="#0a0a0a" stroke-width="8.1" fill="none" stroke-linecap="round" stroke-linejoin="round"/><path d="M231,573.5 L225.5,576.5" stroke="#666666" stroke-width="5.5" fill="none" stroke-linecap="round" stroke-linejoin="round"/><path d="M231.79,574.95 L226.29,577.95" stroke="#4c4c4c" stroke-width="1.76" fill="none" stroke-linecap="butt" stroke-linejoin="round" opacity="0.85"/><path d="M230.42,572.44 L224.92,575.44" stroke="#808080" stroke-width="1.76" fill="none" stroke-linecap="butt" stroke-linejoin="round" opacity="0.9"/>
<ellipse cx="193.5" cy="604.7" rx="41.5" ry="33.5" transform="rotate(50 193.5 604.7)" fill="url(#tire)" stroke="#000" stroke-width="2"/><path d="M184.44,573.3 L190.54,573.65 L196.76,575.34 L202.84,578.28 L208.52,582.35 L213.56,587.38 L217.74,593.15 L220.88,599.41 L222.85,605.91 L223.56,612.35 L222.99,618.46 L221.15,623.98 L218.14,628.68 L214.06,632.35 L209.11,634.84 L203.49,636.04 L197.44,635.89" stroke="#7e7e7e" stroke-width="5" fill="none" opacity="0.55" stroke-linecap="round"/><ellipse cx="186.2" cy="609.9" rx="30" ry="20.5" transform="rotate(50 186.2 609.9)" fill="#575757" stroke="#121212" stroke-width="1.5"/><ellipse cx="186.8" cy="609.5" rx="22.2" ry="15.17" transform="rotate(50 186.8 609.5)" fill="#676767" stroke="#0d0d0d" stroke-width="1.6"/><path d="M201.87,617.89 L201.09,620.58 L199.71,622.8 L197.77,624.45 L195.37,625.47 L192.6,625.79 L189.58,625.43 L186.44,624.37 L183.31,622.69 L180.34,620.44 L177.64,617.72 L175.33,614.64 L173.52,611.35 L172.27,607.98 L171.65,604.67 L171.67,601.58 L172.34,598.81" stroke="#9a9a9a" stroke-width="1.8" fill="none" opacity="0.9" stroke-linecap="round"/><path d="M196.83,621.45 L195.52,622.31 L194,622.88 L192.32,623.13 L190.51,623.07 L188.61,622.69 L186.67,622 L184.74,621.02 L182.85,619.78 L181.06,618.29 L179.39,616.6 L177.9,614.75 L176.62,612.77 L175.57,610.72 L174.79,608.64 L174.29,606.57 L174.07,604.58" stroke="#3a3a3a" stroke-width="1.2" fill="none" opacity="0.9" stroke-linecap="round"/><path d="M176.66,594.1 L178.09,593.57 L179.65,593.27 L181.31,593.21 L183.05,593.38 L184.84,593.79 L186.66,594.42 L188.49,595.26 L190.29,596.31 L192.04,597.55 L193.71,598.97 L195.28,600.53 L196.73,602.22 L198.04,604.02 L199.19,605.9 L200.16,607.82 L200.94,609.78" stroke="#8a8a8a" stroke-width="1.4" fill="none" opacity="0.8" stroke-linecap="round"/><path d="M180.9,597.89 L182.15,597.77 L183.47,597.85 L184.86,598.14 L186.27,598.61 L187.7,599.28 L189.11,600.11 L190.48,601.11 L191.79,602.25 L193.01,603.52 L194.13,604.89 L195.12,606.34 L195.97,607.84 L196.66,609.37 L197.18,610.9 L197.53,612.41 L197.69,613.86" stroke="#2a2a2a" stroke-width="1.3" fill="none" opacity="0.9" stroke-linecap="round"/><ellipse cx="185.6" cy="610.5" rx="10" ry="7.5" transform="rotate(50 185.6 610.5)" fill="#505050" stroke="#111" stroke-width="1.4"/><ellipse cx="184.6" cy="611.2" rx="5" ry="3.8" transform="rotate(50 184.6 611.2)" fill="#2c2c2c" stroke="#0d0d0d" stroke-width="0.8"/><ellipse cx="184.3" cy="611.5" rx="1.7" ry="1.4" transform="rotate(50 184.3 611.5)" fill="#9a9a9a"/>
<ellipse cx="168.1" cy="625.4" rx="5.6" ry="6.2" transform="rotate(20 168.1 625.4)" fill="#404040" stroke="#0a0a0a" stroke-width="1.6"/>
<ellipse cx="168.8" cy="624.6" rx="2.2" ry="2.6" transform="rotate(20 168.8 624.6)" fill="#6a6a6a"/>
<ellipse cx="151.9" cy="638.5" rx="6.5" ry="6.2" transform="rotate(0 151.9 638.5)" fill="#3a3a3a" stroke="#0a0a0a" stroke-width="1.6"/>
<ellipse cx="150.8" cy="637.3" rx="2.8" ry="2.4" transform="rotate(0 150.8 637.3)" fill="#6e6e6e"/>
<path d="M387,515.5 L431.5,478.3" stroke="#0a0a0a" stroke-width="11.6" stroke-linecap="round"/><path d="M387,515.5 L431.5,478.3" stroke="#6a6a6a" stroke-width="9" stroke-linecap="round"/><path d="M385.38,513.57 L429.88,476.37" stroke="#2a2a2a" stroke-width="1.3" stroke-linecap="butt"/><ellipse cx="394.48" cy="510.72" rx="1.4" ry="2.6" transform="rotate(20 394.48 510.72)" fill="#1a1a1a"/><ellipse cx="407.82" cy="499.56" rx="1.4" ry="2.6" transform="rotate(20 407.82 499.56)" fill="#1a1a1a"/><ellipse cx="425.62" cy="484.68" rx="1.4" ry="2.6" transform="rotate(20 425.62 484.68)" fill="#1a1a1a"/>
<path d="M409,497.2 C419.17,494.75 448.23,488.03 470,482.5 C491.77,476.97 528,467.08 539.6,464" stroke="#0a0a0a" stroke-width="14.6" fill="none" stroke-linecap="round" stroke-linejoin="round"/><path d="M409,497.2 C419.17,494.75 448.23,488.03 470,482.5 C491.77,476.97 528,467.08 539.6,464" stroke="#5a5a5a" stroke-width="12" fill="none" stroke-linecap="round" stroke-linejoin="round"/><path d="M409.84,500.7 C420.02,498.25 449.11,491.53 470.89,485.99 C492.67,480.45 528.92,470.56 540.52,467.48" stroke="#424242" stroke-width="3.84" fill="none" stroke-linecap="butt" stroke-linejoin="round" opacity="0.85"/><path d="M408.38,494.63 C418.54,492.18 447.59,485.47 469.35,479.94 C491.11,474.41 527.33,464.53 538.92,461.45" stroke="#727272" stroke-width="3.84" fill="none" stroke-linecap="butt" stroke-linejoin="round" opacity="0.9"/>
<path d="M418,506 L433.5,503" stroke="#0d0d0d" stroke-width="5.76" stroke-linecap="round"/><path d="M418,506 L433.5,503" stroke="#666" stroke-width="2.52" stroke-linecap="round"/><circle cx="418" cy="506" r="4.6" fill="#0d0d0d"/><circle cx="418" cy="506" r="3.6" fill="#505050"/><circle cx="417.4" cy="505.4" r="1.8" fill="#777"/><circle cx="433.5" cy="503" r="4.6" fill="#0d0d0d"/><circle cx="433.5" cy="503" r="3.6" fill="#505050"/><circle cx="432.9" cy="502.4" r="1.8" fill="#777"/>
<path d="M452,475.3 L468,472.5" stroke="#0d0d0d" stroke-width="5.76" stroke-linecap="round"/><path d="M452,475.3 L468,472.5" stroke="#666" stroke-width="2.52" stroke-linecap="round"/><circle cx="452" cy="475.3" r="4.6" fill="#0d0d0d"/><circle cx="452" cy="475.3" r="3.6" fill="#505050"/><circle cx="451.4" cy="474.7" r="1.8" fill="#777"/><circle cx="468" cy="472.5" r="4.6" fill="#0d0d0d"/><circle cx="468" cy="472.5" r="3.6" fill="#505050"/><circle cx="467.4" cy="471.9" r="1.8" fill="#777"/>
<ellipse cx="548.5" cy="462.8" rx="4.5" ry="6" transform="rotate(0 548.5 462.8)" fill="#505050" stroke="#0a0a0a" stroke-width="1.5"/>
<ellipse cx="549.5" cy="462.3" rx="2" ry="3" transform="rotate(0 549.5 462.3)" fill="#9a9a70"/>
<ellipse cx="542.3" cy="428.8" rx="2.6" ry="2.8" transform="rotate(0 542.3 428.8)" fill="#2a2a2a" stroke="#0a0a0a" stroke-width="0.8"/>
<ellipse cx="594.2" cy="431.7" rx="2.6" ry="2.8" transform="rotate(0 594.2 431.7)" fill="#2a2a2a" stroke="#0a0a0a" stroke-width="0.8"/>
<path d="M568,466 C569.32,467.93 572.57,475.1 575.9,477.6 C579.23,480.1 585.18,479.33 588,481 C590.82,482.67 592.3,484.43 592.8,487.6 C593.3,490.77 592.63,497.85 591,500 C589.37,502.15 585.58,500.87 583,500.5 C580.42,500.13 576.75,498.25 575.5,497.8" stroke="#0a0a0a" stroke-width="6.4" fill="none" stroke-linecap="round" stroke-linejoin="round"/><path d="M568,466 C569.32,467.93 572.57,475.1 575.9,477.6 C579.23,480.1 585.18,479.33 588,481 C590.82,482.67 592.3,484.43 592.8,487.6 C593.3,490.77 592.63,497.85 591,500 C589.37,502.15 585.58,500.87 583,500.5 C580.42,500.13 576.75,498.25 575.5,497.8" stroke="#666666" stroke-width="4.2" fill="none" stroke-linecap="round" stroke-linejoin="round"/><path d="M566.96,466.71 C568.32,468.69 571.74,476.05 575.14,478.61 C578.54,481.17 584.62,480.55 587.36,482.08 C590.09,483.62 590.78,484.68 591.56,487.8 C592.33,490.91 593.46,498.44 592,500.76 C590.55,503.09 585.64,502.04 582.82,501.75 C580,501.45 576.36,499.45 575.07,498.99" stroke="#4c4c4c" stroke-width="1.34" fill="none" stroke-linecap="butt" stroke-linejoin="round" opacity="0.85"/><path d="M568.76,465.48 C570.05,467.38 573.17,474.41 576.45,476.86 C579.74,479.31 585.59,478.44 588.47,480.2 C591.35,481.97 593.41,484.25 593.71,487.46 C594.01,490.66 592.03,497.42 590.26,499.44 C588.5,501.46 585.54,500 583.13,499.59 C580.72,499.17 577.03,497.37 575.81,496.93" stroke="#808080" stroke-width="1.34" fill="none" stroke-linecap="butt" stroke-linejoin="round" opacity="0.9"/>
<ellipse cx="565.9" cy="457.7" rx="8.8" ry="9.8" transform="rotate(0 565.9 457.7)" fill="#505050" stroke="#0a0a0a" stroke-width="1.8"/>
<ellipse cx="567.5" cy="457" rx="4.2" ry="5.2" transform="rotate(0 567.5 457)" fill="#777" stroke="#222" stroke-width="0.8"/>
<path d="M601,457 L624.9,491.7 L634.6,482.4 L616.8,448 Z" fill="#505050" stroke="#0a0a0a" stroke-width="1.9" stroke-linejoin="round"/>
<path d="M611,457 L628,486 M615,455 L631,483" stroke="#7a7a7a" stroke-width="1.2"/>
<ellipse cx="602.5" cy="448.5" rx="7.2" ry="9.6" transform="rotate(0 602.5 448.5)" fill="#4a4a4a" stroke="#0a0a0a" stroke-width="1.9"/>
<path d="M602.5,438.9 L609.8,437.3 L609.8,456.5 L602.5,458.1 Z" fill="#4a4a4a"/>
<ellipse cx="609.8" cy="446.9" rx="7.4" ry="9.6" transform="rotate(0 609.8 446.9)" fill="#575757" stroke="#0a0a0a" stroke-width="1.8"/>
<ellipse cx="610.3" cy="446.9" rx="4.3" ry="5" transform="rotate(0 610.3 446.9)" fill="#6e6e6e" stroke="#1a1a1a" stroke-width="0.9"/>
</g>
<g aria-label="Позиции 1-14">
<path d="M 151.5,365.92 L 155.07,362.9 L 155.07,379.4 M 151.5,379.4 L 158.65,379.4 M 150.95,393.15 C 152.6,390.95 154.53,390.4 156.45,390.4 C 159.47,390.4 161.4,392.32 161.4,394.52 C 161.4,396.72 159.47,398.38 156.72,398.38 M 156.72,398.38 C 159.75,398.38 161.68,400.3 161.68,402.77 C 161.68,405.25 159.47,406.9 156.18,406.9 C 153.7,406.9 151.78,406.07 150.4,403.88 M 155.55,425.25 L 152.8,422.5 L 152.8,419.75 L 155.55,417 L 161.05,417 L 163.8,419.75 L 163.8,422.5 L 161.05,425.25 L 155.55,425.25 L 152.8,428 L 152.8,430.75 L 155.55,433.5 L 161.05,433.5 L 163.8,430.75 L 163.8,428 L 161.05,425.25 M 141.5,447.52 L 145.07,444.5 L 145.07,461 M 141.5,461 L 148.65,461 M 153.6,447.25 C 155.25,445.05 157.18,444.5 159.1,444.5 C 162.12,444.5 164.05,446.43 164.05,448.62 C 164.05,450.82 162.12,452.48 159.38,452.48 M 159.38,452.48 C 162.4,452.48 164.33,454.4 164.33,456.88 C 164.33,459.35 162.12,461 158.83,461 C 156.35,461 154.43,460.18 153.05,457.98 M 149,473.72 L 152.57,470.7 L 152.57,487.2 M 149,487.2 L 156.15,487.2 M 160.55,473.72 L 164.12,470.7 L 164.12,487.2 M 160.55,487.2 L 167.7,487.2 M 149,498.65 L 151.75,495.9 L 157.25,495.9 L 160,498.65 L 160,501.4 L 157.25,504.15 L 151.75,504.15 L 149,506.9 L 149,512.4 L 160,512.4 M 155.3,524.5 L 166.3,524.5 L 158.88,541 M 105.3,576.23 L 108.88,573.2 L 108.88,589.7 M 105.3,589.7 L 112.45,589.7 M 125.1,589.7 L 125.1,573.2 L 116.85,584.2 L 127.85,584.2 M 105.3,602.42 L 108.88,599.4 L 108.88,615.9 M 105.3,615.9 L 112.45,615.9 M 116.85,602.15 L 119.6,599.4 L 125.1,599.4 L 127.85,602.15 L 127.85,604.9 L 125.1,607.65 L 119.6,607.65 L 116.85,610.4 L 116.85,615.9 L 127.85,615.9 M 503.33,498.5 L 500.5,495.67 L 500.5,492.83 L 503.33,490 L 509,490 L 511.83,492.83 L 511.83,495.67 L 509,498.5 L 503.33,498.5 L 500.5,501.33 L 500.5,504.17 L 503.33,507 L 509,507 L 511.83,504.17 L 511.83,501.33 L 509,498.5 M 514.5,533.8 L 514.5,516.8 L 506,528.13 L 517.33,528.13 M 509.2,557.8 L 512.2,557.8 L 518.2,551.8 L 518.2,542.8 L 515.2,539.8 L 509.2,539.8 L 506.2,542.8 L 506.2,545.8 L 509.2,548.8 L 518.2,548.8 M 506,566 L 509.9,562.7 L 509.9,580.7 M 506,580.7 L 513.8,580.7 M 519.2,565.7 C 521,563.3 523.1,562.7 525.2,562.7 C 528.5,562.7 530.6,564.8 530.6,567.2 C 530.6,569.6 528.5,571.4 525.5,571.4 M 525.5,571.4 C 528.8,571.4 530.9,573.5 530.9,576.2 C 530.9,578.9 528.5,580.7 524.9,580.7 C 522.2,580.7 520.1,579.8 518.6,577.4 M 632.4,337.9 L 622.8,337.9 L 621.6,345.7 C 623.4,344.5 625.2,343.9 627.3,343.9 C 630.9,343.9 633.3,346.6 633.3,349.9 C 633.3,353.5 630.6,355.9 627,355.9 C 624.3,355.9 622.2,354.7 621,352.9 M 622,365.02 L 625.68,361.9 L 625.68,378.9 M 622,378.9 L 629.37,378.9 M 636.73,378.9 L 633.9,376.07 L 633.9,364.73 L 636.73,361.9 L 639.57,361.9 L 642.4,364.73 L 642.4,376.07 L 639.57,378.9 Z M 634.07,385.8 L 626.07,394.87 L 625,398.33 L 627.67,401.8 L 633,401.8 L 635.67,398.87 L 635.67,395.93 L 633,393 L 628.2,393 L 626.07,394.87" stroke="#2a2a2a" stroke-width="1.2" fill="none" stroke-linecap="round" stroke-linejoin="round"/>
<path d="M150.5,382.4 L158.6,382.4 M158.6,382.4 L266.58,457.11 M149.5,409.9 L162,409.9 M162,409.9 L290.23,517.18 M152,436.8 L165,436.8 M165,436.8 L220.45,483.55 M141,464.4 L165.3,464.4 M165.3,464.4 L271.3,530.22 M148.5,490.2 L165.3,490.2 M165.3,490.2 L263.84,533.39 M148.5,516.2 L162,516.2 M162,516.2 L207.68,524.92 M154.9,542.8 L169.8,542.8 M169.8,542.8 L178.21,556.31 M105,593.5 L130,593.5 M130,593.5 L154.67,614.43 M105,618.6 L130,618.6 M130,618.6 L139.5,625.97 M500.7,510.9 L513,510.9 M513,510.9 L542.98,476.99 M504.7,525.9 L482.93,497.8 M504.7,547.8 L444.55,512.92 M504.7,569.8 L431.02,516.74 M619.8,348 L574.49,435.81 M621.7,369.9 L600.75,418.61 M623.7,393.8 L616,427.94" stroke="#1a1a1a" stroke-width="1.1" fill="none"/>
<path d="M274.8,462.8 L265.21,459.08 L267.94,455.14 Z M297.9,523.6 L288.69,519.02 L291.77,515.34 Z M228.1,490 L218.91,485.39 L222,481.72 Z M279.8,535.5 L270.04,532.26 L272.57,528.19 Z M273,537.4 L262.88,535.58 L264.8,531.19 Z M217.5,526.8 L207.23,527.28 L208.13,522.57 Z M183.5,564.8 L176.18,557.58 L180.25,555.04 Z M162.3,620.9 L153.12,616.26 L156.23,612.6 Z M147.4,632.1 L138.03,627.87 L140.97,624.07 Z M549.6,469.5 L544.77,478.58 L541.18,475.4 Z M476.8,489.9 L484.82,496.33 L481.03,499.27 Z M435.9,507.9 L445.75,510.84 L443.35,514.99 Z M422.9,510.9 L432.42,514.8 L429.61,518.69 Z M569.9,444.7 L572.35,434.71 L576.62,436.91 Z M596.8,427.8 L598.55,417.67 L602.96,419.56 Z M613.8,437.7 L613.66,427.42 L618.34,428.47 Z" fill="#111"/>
</g>
<path d="M147.6,668.8 H674.0 M147.6,699.2 H674.0 M147.6,726.9 H674.0 M147.6,751.9 H674.0 M147.6,777.0 H674.0 M147.6,802.0 H674.0 M147.6,827.0 H674.0 M147.6,851.9 H674.0 M147.6,877.0 H674.0 M147.6,902.1 H674.0 M147.6,927.3 H674.0 M147.6,962.8 H674.0 M147.6,1028.0 H674.0 M147.6,1053.7 H674.0 M147.6,1079.3 H674.0 M147.6,1105.2 H674.0 M147.6,1130.8 H674.0 M147.6,668.8 V1130.8 M674.0,668.8 V1130.8 M189.2,699.2 V1130.8 M618.5,699.2 V1130.8" stroke="#4d4d4d" stroke-width="1.5" fill="none"/>
<g aria-label="КОМПЛЕКТАЦИЯ | НАЗВАНИЕ | ШТ. | Основание левое | Основание правое | Ответная планка | Ручка | Кронштейн зацепа | Кронштейн упора | Колесо | Заглушка Ø25 | Винт с внутренним шестигранником | M8x50 | Винт установочный с внутренним | шестигранником и заостренным | концом M8x10 | Гайка M8 самоконтрящаяся | Гайка M10 самоконтрящаяся | Шайба Ø8 | Шайба Ø10 | Упаковщик" stroke="#2a2a2a" stroke-width="1.2" fill="none" stroke-linecap="round" stroke-linejoin="round"><path d="M 310.5,690.4 L 310.5,674.08 M 310.5,682.24 L 313.28,682.24 L 321.64,674.08 M 313.28,682.24 L 321.64,690.4 M 329.99,690.4 L 327.21,687.68 L 327.21,676.8 L 329.99,674.08 L 335.56,674.08 L 338.35,676.8 L 338.35,687.68 L 335.56,690.4 Z M 343.92,690.4 L 343.92,674.08 L 349.49,682.24 L 355.06,674.08 L 355.06,690.4 M 360.62,690.4 L 360.62,674.08 L 371.76,674.08 L 371.76,690.4 M 377.33,690.4 L 380.12,690.4 L 388.47,674.08 L 391.26,674.08 L 391.26,690.4 M 407.97,674.08 L 396.83,674.08 L 396.83,690.4 L 407.97,690.4 M 396.83,682.24 L 405.18,682.24 M 413.53,690.4 L 413.53,674.08 M 413.53,682.24 L 416.32,682.24 L 424.67,674.08 M 416.32,682.24 L 424.67,690.4 M 430.24,674.08 L 441.38,674.08 M 435.81,674.08 L 435.81,690.4 M 446.95,690.4 L 446.95,684.96 L 452.52,674.08 L 458.09,684.96 L 458.09,690.4 M 446.95,684.96 L 458.09,684.96 M 463.66,674.08 L 463.66,690.4 L 477.58,690.4 L 477.58,693.12 M 474.8,674.08 L 474.8,690.4 M 483.15,674.08 L 483.15,690.4 L 494.29,674.08 L 494.29,690.4 M 511,690.4 L 511,674.08 L 502.65,674.08 L 499.86,676.8 L 499.86,679.52 L 502.65,682.24 L 511,682.24 M 505.43,682.24 L 499.86,690.4 M 356.3,715.8 L 356.3,703.8 M 364.55,715.8 L 364.55,703.8 M 356.3,709.8 L 364.55,709.8 M 368.68,715.8 L 368.68,711.8 L 372.8,703.8 L 376.93,711.8 L 376.93,715.8 M 368.68,711.8 L 376.93,711.8 M 381.06,705.8 L 383.12,703.8 L 387.25,703.8 L 389.31,705.8 L 389.31,707.8 L 387.25,709.8 L 389.31,711.8 L 389.31,713.8 L 387.25,715.8 L 383.12,715.8 L 381.06,713.8 M 383.12,709.8 L 387.25,709.8 M 393.43,715.8 L 393.43,703.8 L 399.62,703.8 L 401.69,705.8 L 401.69,707.8 L 399.62,709.8 L 393.43,709.8 M 399.62,709.8 L 401.69,711.8 L 401.69,713.8 L 399.62,715.8 L 393.43,715.8 M 405.81,715.8 L 405.81,711.8 L 409.94,703.8 L 414.07,711.8 L 414.07,715.8 M 405.81,711.8 L 414.07,711.8 M 418.19,715.8 L 418.19,703.8 M 426.44,715.8 L 426.44,703.8 M 418.19,709.8 L 426.44,709.8 M 430.57,703.8 L 430.57,715.8 L 438.82,703.8 L 438.82,715.8 M 451.2,703.8 L 442.95,703.8 L 442.95,715.8 L 451.2,715.8 M 442.95,709.8 L 449.14,709.8 M 631.5,703.8 L 631.5,715.8 L 642.85,715.8 L 642.85,703.8 M 637.18,705.8 L 637.18,715.8 M 646.98,703.8 L 655.23,703.8 M 651.11,703.8 L 651.11,715.8 M 659.98,715.8 L 659.98,715.2 M 314.67,743.5 L 312.6,741.5 L 312.6,733.5 L 314.67,731.5 L 318.81,731.5 L 320.88,733.5 L 320.88,741.5 L 318.81,743.5 Z M 333.29,737.5 L 331.22,735.5 L 327.09,735.5 L 325.02,737.5 L 325.02,741.5 L 327.09,743.5 L 331.22,743.5 L 333.29,741.5 M 337.43,743.5 L 337.43,735.5 M 345.71,743.5 L 345.71,735.5 M 337.43,739.5 L 345.71,739.5 M 351.92,743.5 L 349.85,741.5 L 349.85,737.5 L 351.92,735.5 L 356.06,735.5 L 358.12,737.5 L 358.12,741.5 L 356.06,743.5 Z M 362.26,739.5 L 368.47,739.5 L 370.54,741.5 L 368.47,743.5 L 362.26,743.5 L 362.26,735.5 L 366.4,735.5 L 368.47,737.5 L 366.4,739.5 M 382.96,735.5 L 382.96,743.5 M 382.96,741.5 L 380.89,743.5 L 376.75,743.5 L 374.68,741.5 L 374.68,737.5 L 376.75,735.5 L 380.89,735.5 L 382.96,737.5 M 387.1,743.5 L 387.1,735.5 M 395.37,743.5 L 395.37,735.5 M 387.1,739.5 L 395.37,739.5 M 399.51,735.5 L 399.51,743.5 L 407.79,735.5 L 407.79,743.5 M 411.93,739.5 L 418.14,739.5 L 420.2,737.5 L 418.14,735.5 L 414,735.5 L 411.93,737.5 L 411.93,741.5 L 414,743.5 L 418.14,743.5 M 436.76,743.5 L 440.9,735.5 L 445.04,735.5 L 445.04,743.5 M 449.17,739.5 L 455.38,739.5 L 457.45,737.5 L 455.38,735.5 L 451.24,735.5 L 449.17,737.5 L 449.17,741.5 L 451.24,743.5 L 455.38,743.5 M 461.59,739.5 L 467.8,739.5 L 469.87,741.5 L 467.8,743.5 L 461.59,743.5 L 461.59,735.5 L 465.73,735.5 L 467.8,737.5 L 465.73,739.5 M 476.08,743.5 L 474.01,741.5 L 474.01,737.5 L 476.08,735.5 L 480.21,735.5 L 482.28,737.5 L 482.28,741.5 L 480.21,743.5 Z M 486.42,739.5 L 492.63,739.5 L 494.7,737.5 L 492.63,735.5 L 488.49,735.5 L 486.42,737.5 L 486.42,741.5 L 488.49,743.5 L 492.63,743.5 M 307.68,768.4 L 305.6,766.4 L 305.6,758.4 L 307.68,756.4 L 311.84,756.4 L 313.92,758.4 L 313.92,766.4 L 311.84,768.4 Z M 326.41,762.4 L 324.33,760.4 L 320.17,760.4 L 318.09,762.4 L 318.09,766.4 L 320.17,768.4 L 324.33,768.4 L 326.41,766.4 M 330.57,768.4 L 330.57,760.4 M 338.89,768.4 L 338.89,760.4 M 330.57,764.4 L 338.89,764.4 M 345.14,768.4 L 343.06,766.4 L 343.06,762.4 L 345.14,760.4 L 349.3,760.4 L 351.38,762.4 L 351.38,766.4 L 349.3,768.4 Z M 355.54,764.4 L 361.78,764.4 L 363.86,766.4 L 361.78,768.4 L 355.54,768.4 L 355.54,760.4 L 359.7,760.4 L 361.78,762.4 L 359.7,764.4 M 376.35,760.4 L 376.35,768.4 M 376.35,766.4 L 374.27,768.4 L 370.11,768.4 L 368.03,766.4 L 368.03,762.4 L 370.11,760.4 L 374.27,760.4 L 376.35,762.4 M 380.51,768.4 L 380.51,760.4 M 388.83,768.4 L 388.83,760.4 M 380.51,764.4 L 388.83,764.4 M 393,760.4 L 393,768.4 L 401.32,760.4 L 401.32,768.4 M 405.48,764.4 L 411.72,764.4 L 413.8,762.4 L 411.72,760.4 L 407.56,760.4 L 405.48,762.4 L 405.48,766.4 L 407.56,768.4 L 411.72,768.4 M 430.45,768.4 L 430.45,760.4 L 438.77,760.4 L 438.77,768.4 M 442.94,768.4 L 442.94,760.4 L 449.18,760.4 L 451.26,762.4 L 451.26,764.4 L 449.18,766.4 L 442.94,766.4 M 463.74,760.4 L 463.74,768.4 M 463.74,766.4 L 461.66,768.4 L 457.5,768.4 L 455.42,766.4 L 455.42,762.4 L 457.5,760.4 L 461.66,760.4 L 463.74,762.4 M 467.91,764.4 L 474.15,764.4 L 476.23,766.4 L 474.15,768.4 L 467.91,768.4 L 467.91,760.4 L 472.07,760.4 L 474.15,762.4 L 472.07,764.4 M 482.47,768.4 L 480.39,766.4 L 480.39,762.4 L 482.47,760.4 L 486.63,760.4 L 488.71,762.4 L 488.71,766.4 L 486.63,768.4 Z M 492.88,764.4 L 499.12,764.4 L 501.2,762.4 L 499.12,760.4 L 494.96,760.4 L 492.88,762.4 L 492.88,766.4 L 494.96,768.4 L 499.12,768.4 M 314.38,793.6 L 312.3,791.6 L 312.3,783.6 L 314.38,781.6 L 318.55,781.6 L 320.63,783.6 L 320.63,791.6 L 318.55,793.6 Z M 324.8,785.6 L 333.13,785.6 M 328.96,785.6 L 328.96,793.6 M 337.3,789.6 L 343.54,789.6 L 345.63,791.6 L 343.54,793.6 L 337.3,793.6 L 337.3,785.6 L 341.46,785.6 L 343.54,787.6 L 341.46,789.6 M 349.79,789.6 L 356.04,789.6 L 358.12,787.6 L 356.04,785.6 L 351.88,785.6 L 349.79,787.6 L 349.79,791.6 L 351.88,793.6 L 356.04,793.6 M 362.29,785.6 L 370.62,785.6 M 366.46,785.6 L 366.46,793.6 M 374.79,793.6 L 374.79,785.6 M 383.12,793.6 L 383.12,785.6 M 374.79,789.6 L 383.12,789.6 M 395.62,785.6 L 395.62,793.6 M 395.62,791.6 L 393.54,793.6 L 389.37,793.6 L 387.29,791.6 L 387.29,787.6 L 389.37,785.6 L 393.54,785.6 L 395.62,787.6 M 408.12,793.6 L 408.12,785.6 L 401.87,785.6 L 399.78,787.6 L 401.87,789.6 L 408.12,789.6 M 403.12,789.6 L 399.78,793.6 M 424.78,793.6 L 424.78,785.6 L 433.11,785.6 L 433.11,793.6 M 437.28,793.6 L 441.44,785.6 L 445.61,785.6 L 445.61,793.6 M 458.11,785.6 L 458.11,793.6 M 458.11,791.6 L 456.02,793.6 L 451.86,793.6 L 449.77,791.6 L 449.77,787.6 L 451.86,785.6 L 456.02,785.6 L 458.11,787.6 M 462.27,793.6 L 462.27,785.6 M 470.6,793.6 L 470.6,785.6 M 462.27,789.6 L 470.6,789.6 M 474.77,793.6 L 474.77,785.6 M 474.77,789.6 L 478.94,789.6 L 483.1,785.6 M 478.94,789.6 L 483.1,793.6 M 495.6,785.6 L 495.6,793.6 M 495.6,791.6 L 493.52,793.6 L 489.35,793.6 L 487.27,791.6 L 487.27,787.6 L 489.35,785.6 L 493.52,785.6 L 495.6,787.6 M 375.5,818.7 L 375.5,806.7 L 381.87,806.7 L 383.99,808.7 L 383.99,810.7 L 381.87,812.7 L 375.5,812.7 M 388.23,810.7 L 388.23,812.7 L 390.36,814.7 L 396.72,814.7 M 396.72,810.7 L 396.72,816.7 L 394.6,818.7 L 390.36,818.7 L 388.23,816.7 M 400.97,810.7 L 400.97,814.7 L 403.09,816.7 L 407.33,816.7 M 407.33,810.7 L 407.33,818.7 M 411.58,818.7 L 411.58,810.7 M 411.58,814.7 L 415.82,814.7 L 420.07,810.7 M 415.82,814.7 L 420.07,818.7 M 432.8,810.7 L 432.8,818.7 M 432.8,816.7 L 430.68,818.7 L 426.43,818.7 L 424.31,816.7 L 424.31,812.7 L 426.43,810.7 L 430.68,810.7 L 432.8,812.7 M 302.9,844.6 L 302.9,832.6 M 302.9,838.6 L 304.99,838.6 L 311.26,832.6 M 304.99,838.6 L 311.26,844.6 M 315.44,844.6 L 315.44,836.6 L 321.71,836.6 L 323.8,838.6 L 323.8,840.6 L 321.71,842.6 L 315.44,842.6 M 330.07,844.6 L 327.98,842.6 L 327.98,838.6 L 330.07,836.6 L 334.25,836.6 L 336.34,838.6 L 336.34,842.6 L 334.25,844.6 Z M 340.52,844.6 L 340.52,836.6 M 348.88,844.6 L 348.88,836.6 M 340.52,840.6 L 348.88,840.6 M 353.06,836.6 L 353.06,844.6 L 364.56,844.6 L 364.56,836.6 M 358.81,838 L 358.81,844.6 M 368.74,836.6 L 377.1,836.6 M 372.92,836.6 L 372.92,844.6 M 381.28,840.6 L 387.55,840.6 L 389.64,838.6 L 387.55,836.6 L 383.37,836.6 L 381.28,838.6 L 381.28,842.6 L 383.37,844.6 L 387.55,844.6 M 393.82,836.6 L 393.82,844.6 L 402.18,836.6 L 402.18,844.6 M 396.54,835.2 L 399.47,835.2 M 406.36,844.6 L 406.36,836.6 M 414.72,844.6 L 414.72,836.6 M 406.36,840.6 L 414.72,840.6 M 431.44,838.6 L 433.53,836.6 L 437.72,836.6 L 439.81,838.6 L 437.72,840.6 L 439.81,842.6 L 437.72,844.6 L 433.53,844.6 L 431.44,842.6 M 433.53,840.6 L 437.72,840.6 M 452.35,836.6 L 452.35,844.6 M 452.35,842.6 L 450.26,844.6 L 446.08,844.6 L 443.99,842.6 L 443.99,838.6 L 446.08,836.6 L 450.26,836.6 L 452.35,838.6 M 456.53,836.6 L 456.53,844.6 L 466.98,844.6 L 466.98,846.6 M 464.89,836.6 L 464.89,844.6 M 471.16,840.6 L 477.43,840.6 L 479.52,838.6 L 477.43,836.6 L 473.25,836.6 L 471.16,838.6 L 471.16,842.6 L 473.25,844.6 L 477.43,844.6 M 483.7,844.6 L 483.7,836.6 L 492.06,836.6 L 492.06,844.6 M 504.6,836.6 L 504.6,844.6 M 504.6,842.6 L 502.51,844.6 L 498.33,844.6 L 496.24,842.6 L 496.24,838.6 L 498.33,836.6 L 502.51,836.6 L 504.6,838.6 M 309.5,870.7 L 309.5,858.7 M 309.5,864.7 L 311.61,864.7 L 317.93,858.7 M 311.61,864.7 L 317.93,870.7 M 322.15,870.7 L 322.15,862.7 L 328.48,862.7 L 330.58,864.7 L 330.58,866.7 L 328.48,868.7 L 322.15,868.7 M 336.91,870.7 L 334.8,868.7 L 334.8,864.7 L 336.91,862.7 L 341.13,862.7 L 343.23,864.7 L 343.23,868.7 L 341.13,870.7 Z M 347.45,870.7 L 347.45,862.7 M 355.88,870.7 L 355.88,862.7 M 347.45,866.7 L 355.88,866.7 M 360.1,862.7 L 360.1,870.7 L 371.7,870.7 L 371.7,862.7 M 365.9,864.1 L 365.9,870.7 M 375.91,862.7 L 384.35,862.7 M 380.13,862.7 L 380.13,870.7 M 388.56,866.7 L 394.89,866.7 L 397,864.7 L 394.89,862.7 L 390.67,862.7 L 388.56,864.7 L 388.56,868.7 L 390.67,870.7 L 394.89,870.7 M 401.21,862.7 L 401.21,870.7 L 409.65,862.7 L 409.65,870.7 M 403.96,861.3 L 406.91,861.3 M 413.86,870.7 L 413.86,862.7 M 422.3,870.7 L 422.3,862.7 M 413.86,866.7 L 422.3,866.7 M 439.17,862.7 L 439.17,864.7 L 441.27,866.7 L 447.6,866.7 M 447.6,862.7 L 447.6,868.7 L 445.49,870.7 L 441.27,870.7 L 439.17,868.7 M 451.82,870.7 L 451.82,862.7 L 460.25,862.7 L 460.25,870.7 M 466.57,870.7 L 464.47,868.7 L 464.47,864.7 L 466.57,862.7 L 470.79,862.7 L 472.9,864.7 L 472.9,868.7 L 470.79,870.7 Z M 477.12,870.7 L 477.12,862.7 L 483.44,862.7 L 485.55,864.7 L 485.55,866.7 L 483.44,868.7 L 477.12,868.7 M 498.2,862.7 L 498.2,870.7 M 498.2,868.7 L 496.09,870.7 L 491.87,870.7 L 489.77,868.7 L 489.77,864.7 L 491.87,862.7 L 496.09,862.7 L 498.2,864.7 M 366.8,895.8 L 366.8,883.8 M 366.8,889.8 L 368.97,889.8 L 375.48,883.8 M 368.97,889.8 L 375.48,895.8 M 381.99,895.8 L 379.82,893.8 L 379.82,889.8 L 381.99,887.8 L 386.34,887.8 L 388.51,889.8 L 388.51,893.8 L 386.34,895.8 Z M 392.85,895.8 L 397.19,887.8 L 401.53,887.8 L 401.53,895.8 M 405.87,891.8 L 412.38,891.8 L 414.55,889.8 L 412.38,887.8 L 408.04,887.8 L 405.87,889.8 L 405.87,893.8 L 408.04,895.8 L 412.38,895.8 M 427.58,889.8 L 425.41,887.8 L 421.06,887.8 L 418.89,889.8 L 418.89,893.8 L 421.06,895.8 L 425.41,895.8 L 427.58,893.8 M 434.09,895.8 L 431.92,893.8 L 431.92,889.8 L 434.09,887.8 L 438.43,887.8 L 440.6,889.8 L 440.6,893.8 L 438.43,895.8 Z M 330.1,910.8 L 332.2,908.8 L 336.39,908.8 L 338.48,910.8 L 338.48,912.8 L 336.39,914.8 L 338.48,916.8 L 338.48,918.8 L 336.39,920.8 L 332.2,920.8 L 330.1,918.8 M 332.2,914.8 L 336.39,914.8 M 351.05,912.8 L 351.05,920.8 M 351.05,918.8 L 348.96,920.8 L 344.77,920.8 L 342.67,918.8 L 342.67,914.8 L 344.77,912.8 L 348.96,912.8 L 351.05,914.8 M 355.24,920.8 L 355.24,912.8 L 361.53,912.8 M 365.72,920.8 L 369.91,912.8 L 374.1,912.8 L 374.1,920.8 M 378.29,912.8 L 378.29,914.8 L 380.38,916.8 L 386.67,916.8 M 386.67,912.8 L 386.67,918.8 L 384.57,920.8 L 380.38,920.8 L 378.29,918.8 M 390.86,912.8 L 390.86,920.8 L 402.38,920.8 L 402.38,912.8 M 396.62,914.2 L 396.62,920.8 M 406.57,920.8 L 406.57,912.8 M 406.57,916.8 L 410.76,916.8 L 414.95,912.8 M 410.76,916.8 L 414.95,920.8 M 427.52,912.8 L 427.52,920.8 M 427.52,918.8 L 425.42,920.8 L 421.23,920.8 L 419.14,918.8 L 419.14,914.8 L 421.23,912.8 L 425.42,912.8 L 427.52,914.8 M 446.79,918.8 L 444.28,916.4 L 444.28,912.2 L 446.79,909.8 L 450.15,909.8 L 452.66,912.2 L 452.66,916.4 L 450.15,918.8 Z M 445.54,921.2 L 451.82,908.4 M 456.85,910.8 L 458.94,908.8 L 463.13,908.8 L 465.23,910.8 L 465.23,912.8 L 463.13,914.8 L 458.94,914.8 L 456.85,916.8 L 456.85,920.8 L 465.23,920.8 M 477.8,908.8 L 469.42,908.8 L 469.42,914.8 L 475.7,914.8 L 477.8,916.8 L 477.8,918.8 L 475.7,920.8 L 471.51,920.8 L 469.42,918.8 M 207.6,941.2 L 207.6,929.2 L 213.79,929.2 L 215.85,931.2 L 215.85,933.2 L 213.79,935.2 L 207.6,935.2 M 213.79,935.2 L 215.85,937.2 L 215.85,939.2 L 213.79,941.2 L 207.6,941.2 M 219.98,933.2 L 219.98,941.2 L 228.24,933.2 L 228.24,941.2 M 232.36,941.2 L 232.36,933.2 M 240.62,941.2 L 240.62,933.2 M 232.36,937.2 L 240.62,937.2 M 244.74,933.2 L 253,933.2 M 248.87,933.2 L 248.87,941.2 M 277.76,935.2 L 275.7,933.2 L 271.57,933.2 L 269.51,935.2 L 269.51,939.2 L 271.57,941.2 L 275.7,941.2 L 277.76,939.2 M 294.27,937.2 L 300.46,937.2 L 302.52,939.2 L 300.46,941.2 L 294.27,941.2 L 294.27,933.2 L 298.39,933.2 L 300.46,935.2 L 298.39,937.2 M 306.65,941.2 L 306.65,933.2 M 314.9,941.2 L 314.9,933.2 M 306.65,937.2 L 314.9,937.2 M 319.03,933.2 L 319.03,935.2 L 321.09,937.2 L 327.28,937.2 M 327.28,933.2 L 327.28,939.2 L 325.22,941.2 L 321.09,941.2 L 319.03,939.2 M 331.41,933.2 L 339.67,933.2 M 335.54,933.2 L 335.54,941.2 M 343.79,941.2 L 343.79,933.2 L 349.98,933.2 L 352.05,935.2 L 352.05,937.2 L 349.98,939.2 L 343.79,939.2 M 356.17,937.2 L 362.36,937.2 L 364.43,935.2 L 362.36,933.2 L 358.24,933.2 L 356.17,935.2 L 356.17,939.2 L 358.24,941.2 L 362.36,941.2 M 368.55,941.2 L 368.55,933.2 M 376.81,941.2 L 376.81,933.2 M 368.55,937.2 L 376.81,937.2 M 380.94,941.2 L 380.94,933.2 M 389.19,941.2 L 389.19,933.2 M 380.94,937.2 L 389.19,937.2 M 393.32,933.2 L 393.32,941.2 L 401.57,933.2 L 401.57,941.2 M 405.7,941.2 L 405.7,933.2 L 409.82,937.2 L 413.95,933.2 L 413.95,941.2 M 430.46,933.2 L 430.46,941.2 L 441.81,941.2 L 441.81,933.2 M 436.13,934.6 L 436.13,941.2 M 445.94,937.2 L 452.13,937.2 L 454.19,935.2 L 452.13,933.2 L 448,933.2 L 445.94,935.2 L 445.94,939.2 L 448,941.2 L 452.13,941.2 M 466.57,935.2 L 464.51,933.2 L 460.38,933.2 L 458.32,935.2 L 458.32,939.2 L 460.38,941.2 L 464.51,941.2 L 466.57,939.2 M 470.7,933.2 L 478.95,933.2 M 474.83,933.2 L 474.83,941.2 M 483.08,933.2 L 483.08,941.2 L 491.33,933.2 L 491.33,941.2 M 495.46,941.2 L 495.46,933.2 L 501.65,933.2 M 505.78,941.2 L 505.78,933.2 L 511.97,933.2 L 514.03,935.2 L 514.03,937.2 L 511.97,939.2 L 505.78,939.2 M 526.41,933.2 L 526.41,941.2 M 526.41,939.2 L 524.35,941.2 L 520.22,941.2 L 518.16,939.2 L 518.16,935.2 L 520.22,933.2 L 524.35,933.2 L 526.41,935.2 M 530.54,941.2 L 530.54,933.2 M 538.79,941.2 L 538.79,933.2 M 530.54,937.2 L 538.79,937.2 M 542.92,941.2 L 542.92,933.2 M 551.18,941.2 L 551.18,933.2 M 542.92,937.2 L 551.18,937.2 M 555.3,933.2 L 555.3,941.2 L 563.56,933.2 L 563.56,941.2 M 567.68,941.2 L 567.68,933.2 M 567.68,937.2 L 571.81,937.2 L 575.94,933.2 M 571.81,937.2 L 575.94,941.2 M 582.13,941.2 L 580.06,939.2 L 580.06,935.2 L 582.13,933.2 L 586.26,933.2 L 588.32,935.2 L 588.32,939.2 L 586.26,941.2 Z M 592.45,941.2 L 592.45,933.2 L 596.57,937.2 L 600.7,933.2 L 600.7,941.2 M 375.6,961.5 L 375.6,949.5 L 379.76,955.5 L 383.91,949.5 L 383.91,961.5 M 390.14,955.5 L 388.07,953.5 L 388.07,951.5 L 390.14,949.5 L 394.3,949.5 L 396.38,951.5 L 396.38,953.5 L 394.3,955.5 L 390.14,955.5 L 388.07,957.5 L 388.07,959.5 L 390.14,961.5 L 394.3,961.5 L 396.38,959.5 L 396.38,957.5 L 394.3,955.5 M 400.53,961.5 L 408.84,953.5 M 400.53,953.5 L 408.84,961.5 M 421.31,949.5 L 413,949.5 L 413,955.5 L 419.23,955.5 L 421.31,957.5 L 421.31,959.5 L 419.23,961.5 L 415.08,961.5 L 413,959.5 M 427.54,961.5 L 425.47,959.5 L 425.47,951.5 L 427.54,949.5 L 429.62,949.5 L 431.7,951.5 L 431.7,959.5 L 429.62,961.5 Z M 215,978.8 L 215,966.8 L 221.42,966.8 L 223.56,968.8 L 223.56,970.8 L 221.42,972.8 L 215,972.8 M 221.42,972.8 L 223.56,974.8 L 223.56,976.8 L 221.42,978.8 L 215,978.8 M 227.84,970.8 L 227.84,978.8 L 236.4,970.8 L 236.4,978.8 M 240.67,978.8 L 240.67,970.8 M 249.23,978.8 L 249.23,970.8 M 240.67,974.8 L 249.23,974.8 M 253.51,970.8 L 262.07,970.8 M 257.79,970.8 L 257.79,978.8 M 279.19,970.8 L 279.19,972.8 L 281.33,974.8 L 287.74,974.8 M 287.74,970.8 L 287.74,976.8 L 285.61,978.8 L 281.33,978.8 L 279.19,976.8 M 300.58,972.8 L 298.44,970.8 L 294.16,970.8 L 292.02,972.8 L 292.02,976.8 L 294.16,978.8 L 298.44,978.8 L 300.58,976.8 M 304.86,970.8 L 313.42,970.8 M 309.14,970.8 L 309.14,978.8 M 326.26,970.8 L 326.26,978.8 M 326.26,976.8 L 324.12,978.8 L 319.84,978.8 L 317.7,976.8 L 317.7,972.8 L 319.84,970.8 L 324.12,970.8 L 326.26,972.8 M 330.54,978.8 L 330.54,970.8 M 339.09,978.8 L 339.09,970.8 M 330.54,974.8 L 339.09,974.8 M 345.51,978.8 L 343.37,976.8 L 343.37,972.8 L 345.51,970.8 L 349.79,970.8 L 351.93,972.8 L 351.93,976.8 L 349.79,978.8 Z M 356.21,974.8 L 362.63,974.8 L 364.77,976.8 L 362.63,978.8 L 356.21,978.8 L 356.21,970.8 L 360.49,970.8 L 362.63,972.8 L 360.49,974.8 M 371.19,978.8 L 369.05,976.8 L 369.05,972.8 L 371.19,970.8 L 375.47,970.8 L 377.61,972.8 L 377.61,976.8 L 375.47,978.8 Z M 381.88,970.8 L 381.88,974.8 L 384.02,976.8 L 388.3,976.8 M 388.3,970.8 L 388.3,978.8 M 392.58,978.8 L 392.58,970.8 M 401.14,978.8 L 401.14,970.8 M 392.58,974.8 L 401.14,974.8 M 405.42,970.8 L 405.42,978.8 L 409.7,978.8 L 411.84,976.8 L 409.7,974.8 L 405.42,974.8 M 413.98,970.8 L 413.98,978.8 M 418.26,970.8 L 418.26,978.8 L 426.82,970.8 L 426.82,978.8 M 421.04,969.4 L 424.03,969.4 M 452.49,972.8 L 450.35,970.8 L 446.07,970.8 L 443.93,972.8 L 443.93,976.8 L 446.07,978.8 L 450.35,978.8 L 452.49,976.8 M 469.61,974.8 L 476.02,974.8 L 478.16,976.8 L 476.02,978.8 L 469.61,978.8 L 469.61,970.8 L 473.89,970.8 L 476.02,972.8 L 473.89,974.8 M 482.44,978.8 L 482.44,970.8 M 491,978.8 L 491,970.8 M 482.44,974.8 L 491,974.8 M 495.28,970.8 L 495.28,972.8 L 497.42,974.8 L 503.84,974.8 M 503.84,970.8 L 503.84,976.8 L 501.7,978.8 L 497.42,978.8 L 495.28,976.8 M 508.12,970.8 L 516.68,970.8 M 512.4,970.8 L 512.4,978.8 M 520.96,978.8 L 520.96,970.8 L 527.37,970.8 L 529.51,972.8 L 529.51,974.8 L 527.37,976.8 L 520.96,976.8 M 533.79,974.8 L 540.21,974.8 L 542.35,972.8 L 540.21,970.8 L 535.93,970.8 L 533.79,972.8 L 533.79,976.8 L 535.93,978.8 L 540.21,978.8 M 546.63,978.8 L 546.63,970.8 M 555.19,978.8 L 555.19,970.8 M 546.63,974.8 L 555.19,974.8 M 559.47,978.8 L 559.47,970.8 M 568.03,978.8 L 568.03,970.8 M 559.47,974.8 L 568.03,974.8 M 572.3,970.8 L 572.3,978.8 L 580.86,970.8 L 580.86,978.8 M 585.14,978.8 L 585.14,970.8 L 589.42,974.8 L 593.7,970.8 L 593.7,978.8 M 226.4,993 L 226.4,1001 L 238.11,1001 L 238.11,993 M 232.26,994.4 L 232.26,1001 M 242.37,997 L 248.76,997 L 250.88,995 L 248.76,993 L 244.5,993 L 242.37,995 L 242.37,999 L 244.5,1001 L 248.76,1001 M 263.66,995 L 261.53,993 L 257.27,993 L 255.14,995 L 255.14,999 L 257.27,1001 L 261.53,1001 L 263.66,999 M 267.92,993 L 276.43,993 M 272.18,993 L 272.18,1001 M 280.69,993 L 280.69,1001 L 289.21,993 L 289.21,1001 M 293.47,1001 L 293.47,993 L 299.85,993 M 304.11,1001 L 304.11,993 L 310.5,993 L 312.63,995 L 312.63,997 L 310.5,999 L 304.11,999 M 325.4,993 L 325.4,1001 M 325.4,999 L 323.28,1001 L 319.02,1001 L 316.89,999 L 316.89,995 L 319.02,993 L 323.28,993 L 325.4,995 M 329.66,1001 L 329.66,993 M 338.18,1001 L 338.18,993 M 329.66,997 L 338.18,997 M 342.44,1001 L 342.44,993 M 350.95,1001 L 350.95,993 M 342.44,997 L 350.95,997 M 355.21,993 L 355.21,1001 L 363.73,993 L 363.73,1001 M 367.99,1001 L 367.99,993 M 367.99,997 L 372.25,997 L 376.5,993 M 372.25,997 L 376.5,1001 M 382.89,1001 L 380.76,999 L 380.76,995 L 382.89,993 L 387.15,993 L 389.28,995 L 389.28,999 L 387.15,1001 Z M 393.54,1001 L 393.54,993 L 397.79,997 L 402.05,993 L 402.05,1001 M 419.09,993 L 419.09,1001 L 427.6,993 L 427.6,1001 M 444.64,995 L 446.76,993 L 451.02,993 L 453.15,995 L 451.02,997 L 453.15,999 L 451.02,1001 L 446.76,1001 L 444.64,999 M 446.76,997 L 451.02,997 M 465.93,993 L 465.93,1001 M 465.93,999 L 463.8,1001 L 459.54,1001 L 457.41,999 L 457.41,995 L 459.54,993 L 463.8,993 L 465.93,995 M 472.31,1001 L 470.19,999 L 470.19,995 L 472.31,993 L 476.57,993 L 478.7,995 L 478.7,999 L 476.57,1001 Z M 491.48,995 L 489.35,993 L 485.09,993 L 482.96,995 L 482.96,999 L 485.09,1001 L 489.35,1001 L 491.48,999 M 495.73,993 L 504.25,993 M 499.99,993 L 499.99,1001 M 508.51,1001 L 508.51,993 L 514.9,993 L 517.03,995 L 517.03,997 L 514.9,999 L 508.51,999 M 521.28,997 L 527.67,997 L 529.8,995 L 527.67,993 L 523.41,993 L 521.28,995 L 521.28,999 L 523.41,1001 L 527.67,1001 M 534.06,1001 L 534.06,993 M 542.58,1001 L 542.58,993 M 534.06,997 L 542.58,997 M 546.83,1001 L 546.83,993 M 555.35,1001 L 555.35,993 M 546.83,997 L 555.35,997 M 559.61,993 L 559.61,1001 L 563.87,1001 L 566,999 L 563.87,997 L 559.61,997 M 568.13,993 L 568.13,1001 M 572.38,1001 L 572.38,993 L 576.64,997 L 580.9,993 L 580.9,1001 M 331.4,1022.3 L 331.4,1014.3 M 331.4,1018.3 L 335.63,1018.3 L 339.86,1014.3 M 335.63,1018.3 L 339.86,1022.3 M 346.21,1022.3 L 344.1,1020.3 L 344.1,1016.3 L 346.21,1014.3 L 350.45,1014.3 L 352.56,1016.3 L 352.56,1020.3 L 350.45,1022.3 Z M 356.79,1022.3 L 356.79,1014.3 M 365.26,1022.3 L 365.26,1014.3 M 356.79,1018.3 L 365.26,1018.3 M 369.49,1014.3 L 369.49,1022.3 L 380.07,1022.3 L 380.07,1024.3 M 377.96,1014.3 L 377.96,1022.3 M 386.42,1022.3 L 384.3,1020.3 L 384.3,1016.3 L 386.42,1014.3 L 390.65,1014.3 L 392.77,1016.3 L 392.77,1020.3 L 390.65,1022.3 Z M 397,1022.3 L 397,1014.3 L 401.23,1018.3 L 405.47,1014.3 L 405.47,1022.3 M 422.4,1022.3 L 422.4,1010.3 L 426.63,1016.3 L 430.86,1010.3 L 430.86,1022.3 M 437.21,1016.3 L 435.09,1014.3 L 435.09,1012.3 L 437.21,1010.3 L 441.44,1010.3 L 443.56,1012.3 L 443.56,1014.3 L 441.44,1016.3 L 437.21,1016.3 L 435.09,1018.3 L 435.09,1020.3 L 437.21,1022.3 L 441.44,1022.3 L 443.56,1020.3 L 443.56,1018.3 L 441.44,1016.3 M 447.79,1022.3 L 456.25,1014.3 M 447.79,1014.3 L 456.25,1022.3 M 460.49,1012.3 L 462.6,1010.3 L 462.6,1022.3 M 460.49,1022.3 L 464.72,1022.3 M 471.07,1022.3 L 468.95,1020.3 L 468.95,1012.3 L 471.07,1010.3 L 473.18,1010.3 L 475.3,1012.3 L 475.3,1020.3 L 473.18,1022.3 Z M 254.7,1041.6 L 254.7,1029.6 L 262.95,1029.6 M 275.33,1033.6 L 275.33,1041.6 M 275.33,1039.6 L 273.27,1041.6 L 269.14,1041.6 L 267.08,1039.6 L 267.08,1035.6 L 269.14,1033.6 L 273.27,1033.6 L 275.33,1035.6 M 279.46,1033.6 L 279.46,1041.6 L 287.71,1033.6 L 287.71,1041.6 M 282.14,1032.2 L 285.03,1032.2 M 291.83,1041.6 L 291.83,1033.6 M 291.83,1037.6 L 295.96,1037.6 L 300.09,1033.6 M 295.96,1037.6 L 300.09,1041.6 M 312.46,1033.6 L 312.46,1041.6 M 312.46,1039.6 L 310.4,1041.6 L 306.27,1041.6 L 304.21,1039.6 L 304.21,1035.6 L 306.27,1033.6 L 310.4,1033.6 L 312.46,1035.6 M 328.97,1041.6 L 328.97,1029.6 L 333.09,1035.6 L 337.22,1029.6 L 337.22,1041.6 M 343.41,1035.6 L 341.34,1033.6 L 341.34,1031.6 L 343.41,1029.6 L 347.53,1029.6 L 349.6,1031.6 L 349.6,1033.6 L 347.53,1035.6 L 343.41,1035.6 L 341.34,1037.6 L 341.34,1039.6 L 343.41,1041.6 L 347.53,1041.6 L 349.6,1039.6 L 349.6,1037.6 L 347.53,1035.6 M 374.35,1035.6 L 372.29,1033.6 L 368.16,1033.6 L 366.1,1035.6 L 366.1,1039.6 L 368.16,1041.6 L 372.29,1041.6 L 374.35,1039.6 M 386.73,1033.6 L 386.73,1041.6 M 386.73,1039.6 L 384.67,1041.6 L 380.54,1041.6 L 378.48,1039.6 L 378.48,1035.6 L 380.54,1033.6 L 384.67,1033.6 L 386.73,1035.6 M 390.86,1041.6 L 390.86,1033.6 L 394.98,1037.6 L 399.11,1033.6 L 399.11,1041.6 M 405.3,1041.6 L 403.23,1039.6 L 403.23,1035.6 L 405.3,1033.6 L 409.42,1033.6 L 411.49,1035.6 L 411.49,1039.6 L 409.42,1041.6 Z M 415.61,1041.6 L 415.61,1033.6 M 415.61,1037.6 L 419.74,1037.6 L 423.86,1033.6 M 419.74,1037.6 L 423.86,1041.6 M 430.05,1041.6 L 427.99,1039.6 L 427.99,1035.6 L 430.05,1033.6 L 434.18,1033.6 L 436.24,1035.6 L 436.24,1039.6 L 434.18,1041.6 Z M 440.37,1041.6 L 440.37,1033.6 M 448.62,1041.6 L 448.62,1033.6 M 440.37,1037.6 L 448.62,1037.6 M 452.75,1033.6 L 461,1033.6 M 456.87,1033.6 L 456.87,1041.6 M 465.12,1041.6 L 465.12,1033.6 L 471.31,1033.6 L 473.38,1035.6 L 473.38,1037.6 L 471.31,1039.6 L 465.12,1039.6 M 485.75,1041.6 L 485.75,1033.6 L 479.56,1033.6 L 477.5,1035.6 L 479.56,1037.6 L 485.75,1037.6 M 480.8,1037.6 L 477.5,1041.6 M 489.88,1033.6 L 489.88,1041.6 L 503.29,1041.6 L 503.29,1043.6 M 501.23,1033.6 L 501.23,1041.6 M 495.55,1035 L 495.55,1041.6 M 515.67,1033.6 L 515.67,1041.6 M 515.67,1039.6 L 513.6,1041.6 L 509.48,1041.6 L 507.41,1039.6 L 507.41,1035.6 L 509.48,1033.6 L 513.6,1033.6 L 515.67,1035.6 M 528.04,1041.6 L 528.04,1033.6 L 521.86,1033.6 L 519.79,1035.6 L 521.86,1037.6 L 528.04,1037.6 M 523.09,1037.6 L 519.79,1041.6 M 540.42,1035.6 L 538.36,1033.6 L 534.23,1033.6 L 532.17,1035.6 L 532.17,1039.6 L 534.23,1041.6 L 538.36,1041.6 L 540.42,1039.6 M 552.8,1041.6 L 552.8,1033.6 L 546.61,1033.6 L 544.55,1035.6 L 546.61,1037.6 L 552.8,1037.6 M 547.85,1037.6 L 544.55,1041.6 M 251.8,1067.4 L 251.8,1055.4 L 260.07,1055.4 M 272.46,1059.4 L 272.46,1067.4 M 272.46,1065.4 L 270.4,1067.4 L 266.27,1067.4 L 264.2,1065.4 L 264.2,1061.4 L 266.27,1059.4 L 270.4,1059.4 L 272.46,1061.4 M 276.6,1059.4 L 276.6,1067.4 L 284.86,1059.4 L 284.86,1067.4 M 279.28,1058 L 282.18,1058 M 289,1067.4 L 289,1059.4 M 289,1063.4 L 293.13,1063.4 L 297.26,1059.4 M 293.13,1063.4 L 297.26,1067.4 M 309.66,1059.4 L 309.66,1067.4 M 309.66,1065.4 L 307.59,1067.4 L 303.46,1067.4 L 301.39,1065.4 L 301.39,1061.4 L 303.46,1059.4 L 307.59,1059.4 L 309.66,1061.4 M 326.19,1067.4 L 326.19,1055.4 L 330.32,1061.4 L 334.46,1055.4 L 334.46,1067.4 M 338.59,1057.4 L 340.66,1055.4 L 340.66,1067.4 M 338.59,1067.4 L 342.72,1067.4 M 348.92,1067.4 L 346.86,1065.4 L 346.86,1057.4 L 348.92,1055.4 L 350.99,1055.4 L 353.06,1057.4 L 353.06,1065.4 L 350.99,1067.4 Z M 377.85,1061.4 L 375.79,1059.4 L 371.65,1059.4 L 369.59,1061.4 L 369.59,1065.4 L 371.65,1067.4 L 375.79,1067.4 L 377.85,1065.4 M 390.25,1059.4 L 390.25,1067.4 M 390.25,1065.4 L 388.19,1067.4 L 384.05,1067.4 L 381.99,1065.4 L 381.99,1061.4 L 384.05,1059.4 L 388.19,1059.4 L 390.25,1061.4 M 394.38,1067.4 L 394.38,1059.4 L 398.52,1063.4 L 402.65,1059.4 L 402.65,1067.4 M 408.85,1067.4 L 406.78,1065.4 L 406.78,1061.4 L 408.85,1059.4 L 412.98,1059.4 L 415.05,1061.4 L 415.05,1065.4 L 412.98,1067.4 Z M 419.18,1067.4 L 419.18,1059.4 M 419.18,1063.4 L 423.31,1063.4 L 427.45,1059.4 M 423.31,1063.4 L 427.45,1067.4 M 433.65,1067.4 L 431.58,1065.4 L 431.58,1061.4 L 433.65,1059.4 L 437.78,1059.4 L 439.85,1061.4 L 439.85,1065.4 L 437.78,1067.4 Z M 443.98,1067.4 L 443.98,1059.4 M 452.24,1067.4 L 452.24,1059.4 M 443.98,1063.4 L 452.24,1063.4 M 456.38,1059.4 L 464.64,1059.4 M 460.51,1059.4 L 460.51,1067.4 M 468.78,1067.4 L 468.78,1059.4 L 474.98,1059.4 L 477.04,1061.4 L 477.04,1063.4 L 474.98,1065.4 L 468.78,1065.4 M 489.44,1067.4 L 489.44,1059.4 L 483.24,1059.4 L 481.17,1061.4 L 483.24,1063.4 L 489.44,1063.4 M 484.48,1063.4 L 481.17,1067.4 M 493.57,1059.4 L 493.57,1067.4 L 507.01,1067.4 L 507.01,1069.4 M 504.94,1059.4 L 504.94,1067.4 M 499.26,1060.8 L 499.26,1067.4 M 519.4,1059.4 L 519.4,1067.4 M 519.4,1065.4 L 517.34,1067.4 L 513.2,1067.4 L 511.14,1065.4 L 511.14,1061.4 L 513.2,1059.4 L 517.34,1059.4 L 519.4,1061.4 M 531.8,1067.4 L 531.8,1059.4 L 525.6,1059.4 L 523.54,1061.4 L 525.6,1063.4 L 531.8,1063.4 M 526.84,1063.4 L 523.54,1067.4 M 544.2,1061.4 L 542.13,1059.4 L 538,1059.4 L 535.94,1061.4 L 535.94,1065.4 L 538,1067.4 L 542.13,1067.4 L 544.2,1065.4 M 556.6,1067.4 L 556.6,1059.4 L 550.4,1059.4 L 548.33,1061.4 L 550.4,1063.4 L 556.6,1063.4 M 551.64,1063.4 L 548.33,1067.4 M 354.2,1081.3 L 354.2,1093.3 L 365.76,1093.3 L 365.76,1081.3 M 359.98,1083.3 L 359.98,1093.3 M 378.36,1085.3 L 378.36,1093.3 M 378.36,1091.3 L 376.26,1093.3 L 372.06,1093.3 L 369.96,1091.3 L 369.96,1087.3 L 372.06,1085.3 L 376.26,1085.3 L 378.36,1087.3 M 382.56,1085.3 L 382.56,1093.3 L 390.97,1085.3 L 390.97,1093.3 M 385.3,1083.9 L 388.24,1083.9 M 403.57,1085.3 L 395.17,1085.3 L 395.17,1093.3 L 401.47,1093.3 L 403.57,1091.3 L 401.47,1089.3 L 395.17,1089.3 M 416.18,1085.3 L 416.18,1093.3 M 416.18,1091.3 L 414.08,1093.3 L 409.88,1093.3 L 407.78,1091.3 L 407.78,1087.3 L 409.88,1085.3 L 414.08,1085.3 L 416.18,1087.3 M 435.51,1091.3 L 432.99,1088.9 L 432.99,1084.7 L 435.51,1082.3 L 438.87,1082.3 L 441.39,1084.7 L 441.39,1088.9 L 438.87,1091.3 Z M 434.25,1093.7 L 440.55,1080.9 M 447.7,1087.3 L 445.6,1085.3 L 445.6,1083.3 L 447.7,1081.3 L 451.9,1081.3 L 454,1083.3 L 454,1085.3 L 451.9,1087.3 L 447.7,1087.3 L 445.6,1089.3 L 445.6,1091.3 L 447.7,1093.3 L 451.9,1093.3 L 454,1091.3 L 454,1089.3 L 451.9,1087.3 M 350.7,1107 L 350.7,1119 L 362.3,1119 L 362.3,1107 M 356.5,1109 L 356.5,1119 M 374.95,1111 L 374.95,1119 M 374.95,1117 L 372.84,1119 L 368.63,1119 L 366.52,1117 L 366.52,1113 L 368.63,1111 L 372.84,1111 L 374.95,1113 M 379.17,1111 L 379.17,1119 L 387.61,1111 L 387.61,1119 M 381.91,1109.6 L 384.86,1109.6 M 400.26,1111 L 391.82,1111 L 391.82,1119 L 398.15,1119 L 400.26,1117 L 398.15,1115 L 391.82,1115 M 412.91,1111 L 412.91,1119 M 412.91,1117 L 410.8,1119 L 406.59,1119 L 404.48,1117 L 404.48,1113 L 406.59,1111 L 410.8,1111 L 412.91,1113 M 432.31,1117 L 429.78,1114.6 L 429.78,1110.4 L 432.31,1108 L 435.69,1108 L 438.22,1110.4 L 438.22,1114.6 L 435.69,1117 Z M 431.05,1119.4 L 437.38,1106.6 M 442.44,1109 L 444.55,1107 L 444.55,1119 M 442.44,1119 L 446.66,1119 M 452.98,1119 L 450.87,1117 L 450.87,1109 L 452.98,1107 L 455.09,1107 L 457.2,1109 L 457.2,1117 L 455.09,1119 Z M 215.9,1150.62 L 215.9,1154.98 L 217.98,1157.16 L 224.23,1157.16 M 224.23,1150.62 L 224.23,1161.52 L 222.15,1163.7 L 217.98,1163.7 L 215.9,1161.52 M 228.4,1163.7 L 228.4,1154.98 L 236.73,1154.98 L 236.73,1163.7 M 249.22,1154.98 L 249.22,1163.7 M 249.22,1161.52 L 247.14,1163.7 L 242.97,1163.7 L 240.89,1161.52 L 240.89,1157.16 L 242.97,1154.98 L 247.14,1154.98 L 249.22,1157.16 M 253.39,1163.7 L 253.39,1154.98 M 253.39,1159.34 L 257.55,1159.34 L 261.72,1154.98 M 257.55,1159.34 L 261.72,1163.7 M 267.96,1163.7 L 265.88,1161.52 L 265.88,1157.16 L 267.96,1154.98 L 272.13,1154.98 L 274.21,1157.16 L 274.21,1161.52 L 272.13,1163.7 Z M 278.38,1159.34 L 284.62,1159.34 L 286.71,1161.52 L 284.62,1163.7 L 278.38,1163.7 L 278.38,1154.98 L 282.54,1154.98 L 284.62,1157.16 L 282.54,1159.34 M 290.87,1154.98 L 290.87,1163.7 L 304.41,1163.7 L 304.41,1165.88 M 302.33,1154.98 L 302.33,1163.7 M 296.6,1156.51 L 296.6,1163.7 M 308.57,1154.98 L 308.57,1163.7 L 316.9,1154.98 L 316.9,1163.7 M 321.07,1163.7 L 321.07,1154.98 M 321.07,1159.34 L 325.23,1159.34 L 329.4,1154.98 M 325.23,1159.34 L 329.4,1163.7 M 166.35,733.7 L 168.4,731.7 L 168.4,743.7 M 166.35,743.7 L 170.45,743.7 M 642.2,733.7 L 644.25,731.7 L 648.35,731.7 L 650.4,733.7 L 650.4,735.7 L 648.35,737.7 L 644.25,737.7 L 642.2,739.7 L 642.2,743.7 L 650.4,743.7 M 164.3,758.9 L 166.35,756.9 L 170.45,756.9 L 172.5,758.9 L 172.5,760.9 L 170.45,762.9 L 166.35,762.9 L 164.3,764.9 L 164.3,768.9 L 172.5,768.9 M 642.2,758.7 L 644.25,756.7 L 648.35,756.7 L 650.4,758.7 L 650.4,760.7 L 648.35,762.7 L 644.25,762.7 L 642.2,764.7 L 642.2,768.7 L 650.4,768.7 M 164.3,784 L 166.35,782 L 170.45,782 L 172.5,784 L 172.5,786 L 170.45,788 L 172.5,790 L 172.5,792 L 170.45,794 L 166.35,794 L 164.3,792 M 168.4,788 L 170.45,788 M 642.2,784.2 L 644.25,782.2 L 648.35,782.2 L 650.4,784.2 L 650.4,786.2 L 648.35,788.2 L 644.25,788.2 L 642.2,790.2 L 642.2,794.2 L 650.4,794.2 M 170.45,818.7 L 170.45,806.7 L 164.3,814.7 L 172.5,814.7 M 642.2,810.5 L 644.25,808.5 L 648.35,808.5 L 650.4,810.5 L 650.4,812.5 L 648.35,814.5 L 644.25,814.5 L 642.2,816.5 L 642.2,820.5 L 650.4,820.5 M 172.5,831.9 L 164.3,831.9 L 164.3,837.9 L 170.45,837.9 L 172.5,839.9 L 172.5,841.9 L 170.45,843.9 L 166.35,843.9 L 164.3,841.9 M 642.2,836 L 644.25,834 L 648.35,834 L 650.4,836 L 650.4,838 L 648.35,840 L 644.25,840 L 642.2,842 L 642.2,846 L 650.4,846 M 170.45,857 L 168.4,857 L 164.3,861 L 164.3,867 L 166.35,869 L 170.45,869 L 172.5,867 L 172.5,865 L 170.45,863 L 164.3,863 M 642.2,861.2 L 644.25,859.2 L 648.35,859.2 L 650.4,861.2 L 650.4,863.2 L 648.35,865.2 L 644.25,865.2 L 642.2,867.2 L 642.2,871.2 L 650.4,871.2 M 164.3,881 L 172.5,881 L 166.35,893 M 648.35,895.5 L 648.35,883.5 L 642.2,891.5 L 650.4,891.5 M 166.35,913.3 L 164.3,911.3 L 164.3,909.3 L 166.35,907.3 L 170.45,907.3 L 172.5,909.3 L 172.5,911.3 L 170.45,913.3 L 166.35,913.3 L 164.3,915.3 L 164.3,917.3 L 166.35,919.3 L 170.45,919.3 L 172.5,917.3 L 172.5,915.3 L 170.45,913.3 M 648.35,909 L 646.3,909 L 642.2,913 L 642.2,919 L 644.25,921 L 648.35,921 L 650.4,919 L 650.4,917 L 648.35,915 L 642.2,915 M 166.35,943.8 L 168.4,943.8 L 172.5,939.8 L 172.5,933.8 L 170.45,931.8 L 166.35,931.8 L 164.3,933.8 L 164.3,935.8 L 166.35,937.8 L 172.5,937.8 M 648.35,951.5 L 648.35,939.5 L 642.2,947.5 L 650.4,947.5 M 161.22,970 L 163.28,968 L 163.28,980 M 161.22,980 L 165.32,980 M 171.47,980 L 169.42,978 L 169.42,970 L 171.47,968 L 173.52,968 L 175.57,970 L 175.57,978 L 173.52,980 Z M 648.35,1002.5 L 648.35,990.5 L 642.2,998.5 L 650.4,998.5 M 162.25,1034.6 L 164.3,1032.6 L 164.3,1044.6 M 162.25,1044.6 L 166.35,1044.6 M 170.45,1034.6 L 172.5,1032.6 L 172.5,1044.6 M 170.45,1044.6 L 174.55,1044.6 M 648.35,1047.5 L 648.35,1035.5 L 642.2,1043.5 L 650.4,1043.5 M 160.2,1060 L 162.25,1058 L 162.25,1070 M 160.2,1070 L 164.3,1070 M 168.4,1060 L 170.45,1058 L 174.55,1058 L 176.6,1060 L 176.6,1062 L 174.55,1064 L 170.45,1064 L 168.4,1066 L 168.4,1070 L 176.6,1070 M 648.35,1073.5 L 648.35,1061.5 L 642.2,1069.5 L 650.4,1069.5 M 160.2,1085.5 L 162.25,1083.5 L 162.25,1095.5 M 160.2,1095.5 L 164.3,1095.5 M 168.4,1085.5 L 170.45,1083.5 L 174.55,1083.5 L 176.6,1085.5 L 176.6,1087.5 L 174.55,1089.5 L 176.6,1091.5 L 176.6,1093.5 L 174.55,1095.5 L 170.45,1095.5 L 168.4,1093.5 M 172.5,1089.5 L 174.55,1089.5 M 644.25,1093.5 L 642.2,1091.5 L 642.2,1089.5 L 644.25,1087.5 L 648.35,1087.5 L 650.4,1089.5 L 650.4,1091.5 L 648.35,1093.5 L 644.25,1093.5 L 642.2,1095.5 L 642.2,1097.5 L 644.25,1099.5 L 648.35,1099.5 L 650.4,1097.5 L 650.4,1095.5 L 648.35,1093.5 M 160.2,1111 L 162.25,1109 L 162.25,1121 M 160.2,1121 L 164.3,1121 M 174.55,1121 L 174.55,1109 L 168.4,1117 L 176.6,1117 M 648.35,1124.5 L 648.35,1112.5 L 642.2,1120.5 L 650.4,1120.5"/></g>
<g aria-label="№" fill="none" stroke-linejoin="round" stroke-linecap="round"><path d="M160.2,716 L160.2,703.7 L168.81,716 L168.81,703.7 M171.27,714.98 H177.01" stroke="#333" stroke-width="2.7"/><ellipse cx="174.14" cy="709.24" rx="2.56" ry="2.97" stroke="#333" stroke-width="2.4"/><path d="M160.2,716 L160.2,703.7 L168.81,716 L168.81,703.7 M171.27,714.98 H177.01" stroke="#c8c8c8" stroke-width="0.8"/><ellipse cx="174.14" cy="709.24" rx="2.56" ry="2.97" stroke="#c8c8c8" stroke-width="0.7"/></g>
<path d="M346.8,1163.8 H584.2" stroke="#4a4a4a" stroke-width="1.5"/>
</svg>
</body></html>
